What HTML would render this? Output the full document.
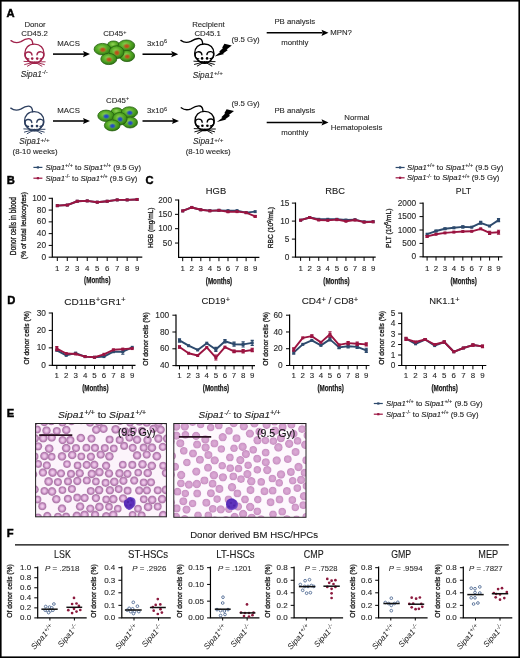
<!DOCTYPE html>
<html><head><meta charset="utf-8"><title>Figure</title>
<style>
html,body{margin:0;padding:0;background:#fff;}
body{width:520px;height:658px;overflow:hidden;}
svg{display:block;font-family:"Liberation Sans", sans-serif;filter:blur(0.4px);}
</style></head><body>
<svg width="520" height="658" viewBox="0 0 520 658">
<rect x="0.8" y="0.8" width="518.4" height="656.4" fill="#fff" stroke="#000" stroke-width="1.6"/>
<text x="6.60" y="16.95" font-size="11.2" font-weight="bold" fill="#000" stroke="#000" stroke-width="0.45">A</text>
<text x="6.80" y="183.95" font-size="11.2" font-weight="bold" fill="#000" stroke="#000" stroke-width="0.45">B</text>
<text x="145.60" y="184.15" font-size="11.2" font-weight="bold" fill="#000" stroke="#000" stroke-width="0.45">C</text>
<text x="7.20" y="303.75" font-size="11.2" font-weight="bold" fill="#000" stroke="#000" stroke-width="0.45">D</text>
<text x="6.80" y="417.45" font-size="11.2" font-weight="bold" fill="#000" stroke="#000" stroke-width="0.45">E</text>
<text x="6.80" y="537.45" font-size="11.2" font-weight="bold" fill="#000" stroke="#000" stroke-width="0.45">F</text>
<defs>
<radialGradient id="gcell" cx="0.45" cy="0.4" r="0.6">
<stop offset="0" stop-color="#98d45c"/><stop offset="0.45" stop-color="#5cb02a"/><stop offset="0.85" stop-color="#3a8a18"/><stop offset="1" stop-color="#2c6a0e"/></radialGradient>
<radialGradient id="nucR" cx="0.5" cy="0.5" r="0.5">
<stop offset="0" stop-color="#c0441a"/><stop offset="0.45" stop-color="#b85a1c" stop-opacity="0.9"/><stop offset="1" stop-color="#70a030" stop-opacity="0"/></radialGradient>
<radialGradient id="nucB" cx="0.5" cy="0.5" r="0.5">
<stop offset="0" stop-color="#1e3cd0"/><stop offset="0.45" stop-color="#2850c0" stop-opacity="0.9"/><stop offset="1" stop-color="#50a050" stop-opacity="0"/></radialGradient>
</defs>
<text x="35.00" y="27.15" font-size="7.8" text-anchor="middle" fill="#2b2b2b" stroke="#2b2b2b" stroke-width="0.12" >Donor</text>
<text x="34.50" y="36.25" font-size="7.8" text-anchor="middle" fill="#2b2b2b" stroke="#2b2b2b" stroke-width="0.12" >CD45.2</text>
<g transform="translate(34.40 53.80) scale(1.0)" fill="none" stroke="#a0234b" stroke-width="1.35" stroke-linecap="round" stroke-linejoin="round"><path d="M -23.4 -13.2 Q -19 -9.8 -13.5 -12.2 Q -8 -15.8 -4.5 -15 Q -1.8 -14 -1.6 -9.6"/><path d="M -6.8 6.2 C -10.5 3 -10.5 -3.5 -7 -7 C -3.5 -10.5 3.5 -10.5 7 -7 C 10.5 -3.5 10.5 3 6.8 6.2"/><path d="M -6.8 6.2 Q -3.5 9.8 0.3 9.6 Q 4 9.8 6.8 6.2"/><path d="M -5.6 5.2 C -10.0 5.2 -10.4 -1.4 -6.4 -1.8 C -4.2 -2.0 -2.6 -0.6 -2.4 1.2"/><path d="M 5.8 5.0 C 10.2 5.0 10.6 -1.6 6.6 -2.0 C 4.4 -2.2 2.8 -0.8 2.6 1.0"/><circle cx="-2.2" cy="4.8" r="1.3" fill="#a0234b" stroke="none"/><circle cx="2.8" cy="4.8" r="1.3" fill="#a0234b" stroke="none"/><ellipse cx="0.3" cy="8.7" rx="1.8" ry="1.2" fill="#a0234b" stroke="none"/><path stroke-width="0.95" d="M -1.5 8 L -10.4 7.6 M -1.5 8.6 L -9.8 10.8 M -1 9 L -7 12.4 M 2.1 8 L 10.8 8 M 2.1 8.6 L 10 10.8 M 1.7 9 L 7.5 12.4"/></g>
<text x="34.20" y="76.85" font-size="8.3" text-anchor="middle" fill="#2b2b2b" stroke="#2b2b2b" stroke-width="0.12" ><tspan font-style="italic">Sipa1</tspan><tspan font-size="6.23" dy="-2.74">-/-</tspan></text>
<text x="68.60" y="45.95" font-size="7.8" text-anchor="middle" fill="#2b2b2b" stroke="#2b2b2b" stroke-width="0.12" >MACS</text>
<line x1="53.00" y1="54.10" x2="84.00" y2="54.10" stroke="#000" stroke-width="1.55" />
<polygon points="90.00,54.10 83.00,51.00 84.20,54.10 83.00,57.20" fill="#000"/>
<text x="103.20" y="36.15" font-size="7.8" fill="#2b2b2b" stroke="#2b2b2b" stroke-width="0.12" ><tspan>CD45</tspan><tspan font-size="5.46" dy="-2.57">+</tspan></text>
<g transform="translate(93.50 39.40) scale(1.0)"><ellipse cx="20.00" cy="5.60" rx="6.0" ry="4.0" fill="url(#gcell)" stroke="#23600e" stroke-width="0.8"/><ellipse cx="32.90" cy="6.20" rx="8.3" ry="5.6" fill="url(#gcell)" stroke="#23600e" stroke-width="0.8"/><ellipse cx="33.20" cy="6.80" rx="4.32" ry="3.25" fill="url(#nucR)"/><ellipse cx="9.00" cy="9.80" rx="8.4" ry="5.8" fill="url(#gcell)" stroke="#23600e" stroke-width="0.8"/><ellipse cx="9.30" cy="10.40" rx="4.37" ry="3.36" fill="url(#nucR)"/><ellipse cx="33.50" cy="16.60" rx="7.6" ry="5.6" fill="url(#gcell)" stroke="#23600e" stroke-width="0.8"/><ellipse cx="33.80" cy="17.20" rx="3.95" ry="3.25" fill="url(#nucR)"/><ellipse cx="23.10" cy="12.80" rx="7.4" ry="6.4" fill="url(#gcell)" stroke="#23600e" stroke-width="0.8"/><ellipse cx="23.40" cy="13.40" rx="3.85" ry="3.71" fill="url(#nucR)"/><ellipse cx="15.30" cy="19.60" rx="8.0" ry="5.6" fill="url(#gcell)" stroke="#23600e" stroke-width="0.8"/><ellipse cx="15.60" cy="20.20" rx="4.16" ry="3.25" fill="url(#nucR)"/></g>
<text x="147.00" y="45.95" font-size="7.8" fill="#2b2b2b" stroke="#2b2b2b" stroke-width="0.12" ><tspan>3x10</tspan><tspan font-size="5.46" dy="-2.57">6</tspan></text>
<line x1="142.50" y1="54.20" x2="172.20" y2="54.20" stroke="#000" stroke-width="1.55" />
<polygon points="178.20,54.20 171.20,51.10 172.40,54.20 171.20,57.30" fill="#000"/>
<text x="208.40" y="26.75" font-size="7.8" text-anchor="middle" fill="#2b2b2b" stroke="#2b2b2b" stroke-width="0.12" >Recipient</text>
<text x="207.60" y="36.25" font-size="7.8" text-anchor="middle" fill="#2b2b2b" stroke="#2b2b2b" stroke-width="0.12" >CD45.1</text>
<g transform="translate(204.30 53.60) scale(1.0)" fill="none" stroke="#000" stroke-width="1.35" stroke-linecap="round" stroke-linejoin="round"><path d="M -23.4 -13.2 Q -19 -9.8 -13.5 -12.2 Q -8 -15.8 -4.5 -15 Q -1.8 -14 -1.6 -9.6"/><path d="M -6.8 6.2 C -10.5 3 -10.5 -3.5 -7 -7 C -3.5 -10.5 3.5 -10.5 7 -7 C 10.5 -3.5 10.5 3 6.8 6.2"/><path d="M -6.8 6.2 Q -3.5 9.8 0.3 9.6 Q 4 9.8 6.8 6.2"/><path d="M -5.6 5.2 C -10.0 5.2 -10.4 -1.4 -6.4 -1.8 C -4.2 -2.0 -2.6 -0.6 -2.4 1.2"/><path d="M 5.8 5.0 C 10.2 5.0 10.6 -1.6 6.6 -2.0 C 4.4 -2.2 2.8 -0.8 2.6 1.0"/><circle cx="-2.2" cy="4.8" r="1.3" fill="#000" stroke="none"/><circle cx="2.8" cy="4.8" r="1.3" fill="#000" stroke="none"/><ellipse cx="0.3" cy="8.7" rx="1.8" ry="1.2" fill="#000" stroke="none"/><path stroke-width="0.95" d="M -1.5 8 L -10.4 7.6 M -1.5 8.6 L -9.8 10.8 M -1 9 L -7 12.4 M 2.1 8 L 10.8 8 M 2.1 8.6 L 10 10.8 M 1.7 9 L 7.5 12.4"/></g>
<polygon points="214.60,56.40 220.20,52.10 219.10,51.70 223.00,48.00 222.10,47.70 224.40,43.70 231.80,45.50 226.60,49.40 227.90,50.10 223.00,53.60 224.20,54.00" fill="#000"/>
<text x="231.50" y="42.45" font-size="7.8" fill="#2b2b2b" stroke="#2b2b2b" stroke-width="0.12" >(9.5 Gy)</text>
<text x="207.80" y="77.55" font-size="8.3" text-anchor="middle" fill="#2b2b2b" stroke="#2b2b2b" stroke-width="0.12" ><tspan font-style="italic">Sipa1</tspan><tspan font-size="6.23" dy="-2.74">+/+</tspan></text>
<text x="274.40" y="23.55" font-size="7.8" fill="#2b2b2b" stroke="#2b2b2b" stroke-width="0.12" >PB analysis</text>
<line x1="266.70" y1="32.80" x2="322.50" y2="32.80" stroke="#000" stroke-width="1.55" />
<polygon points="328.50,32.80 321.50,29.70 322.70,32.80 321.50,35.90" fill="#000"/>
<text x="330.20" y="35.35" font-size="7.8" fill="#2b2b2b" stroke="#2b2b2b" stroke-width="0.12" >MPN?</text>
<text x="281.20" y="45.35" font-size="7.8" fill="#2b2b2b" stroke="#2b2b2b" stroke-width="0.12" >monthly</text>
<g transform="translate(34.20 121.30) scale(1.0)" fill="none" stroke="#2c3e5e" stroke-width="1.35" stroke-linecap="round" stroke-linejoin="round"><path d="M -23.4 -13.2 Q -19 -9.8 -13.5 -12.2 Q -8 -15.8 -4.5 -15 Q -1.8 -14 -1.6 -9.6"/><path d="M -6.8 6.2 C -10.5 3 -10.5 -3.5 -7 -7 C -3.5 -10.5 3.5 -10.5 7 -7 C 10.5 -3.5 10.5 3 6.8 6.2"/><path d="M -6.8 6.2 Q -3.5 9.8 0.3 9.6 Q 4 9.8 6.8 6.2"/><path d="M -5.6 5.2 C -10.0 5.2 -10.4 -1.4 -6.4 -1.8 C -4.2 -2.0 -2.6 -0.6 -2.4 1.2"/><path d="M 5.8 5.0 C 10.2 5.0 10.6 -1.6 6.6 -2.0 C 4.4 -2.2 2.8 -0.8 2.6 1.0"/><circle cx="-2.2" cy="4.8" r="1.3" fill="#2c3e5e" stroke="none"/><circle cx="2.8" cy="4.8" r="1.3" fill="#2c3e5e" stroke="none"/><ellipse cx="0.3" cy="8.7" rx="1.8" ry="1.2" fill="#2c3e5e" stroke="none"/><path stroke-width="0.95" d="M -1.5 8 L -10.4 7.6 M -1.5 8.6 L -9.8 10.8 M -1 9 L -7 12.4 M 2.1 8 L 10.8 8 M 2.1 8.6 L 10 10.8 M 1.7 9 L 7.5 12.4"/></g>
<text x="34.40" y="144.35" font-size="8.3" text-anchor="middle" fill="#2b2b2b" stroke="#2b2b2b" stroke-width="0.12" ><tspan font-style="italic">Sipa1</tspan><tspan font-size="6.23" dy="-2.74">+/+</tspan></text>
<text x="35.10" y="153.75" font-size="7.8" text-anchor="middle" fill="#2b2b2b" stroke="#2b2b2b" stroke-width="0.12" >(8-10 weeks)</text>
<text x="68.60" y="113.35" font-size="7.8" text-anchor="middle" fill="#2b2b2b" stroke="#2b2b2b" stroke-width="0.12" >MACS</text>
<line x1="53.00" y1="121.00" x2="84.00" y2="121.00" stroke="#000" stroke-width="1.55" />
<polygon points="90.00,121.00 83.00,117.90 84.20,121.00 83.00,124.10" fill="#000"/>
<text x="106.00" y="102.75" font-size="7.8" fill="#2b2b2b" stroke="#2b2b2b" stroke-width="0.12" ><tspan>CD45</tspan><tspan font-size="5.46" dy="-2.57">+</tspan></text>
<g transform="translate(97.20 106.20) scale(0.98)"><ellipse cx="20.00" cy="5.60" rx="6.0" ry="4.0" fill="url(#gcell)" stroke="#23600e" stroke-width="0.8"/><ellipse cx="32.90" cy="6.20" rx="8.3" ry="5.6" fill="url(#gcell)" stroke="#23600e" stroke-width="0.8"/><ellipse cx="33.20" cy="6.80" rx="4.32" ry="3.25" fill="url(#nucB)"/><ellipse cx="9.00" cy="9.80" rx="8.4" ry="5.8" fill="url(#gcell)" stroke="#23600e" stroke-width="0.8"/><ellipse cx="9.30" cy="10.40" rx="4.37" ry="3.36" fill="url(#nucB)"/><ellipse cx="33.50" cy="16.60" rx="7.6" ry="5.6" fill="url(#gcell)" stroke="#23600e" stroke-width="0.8"/><ellipse cx="33.80" cy="17.20" rx="3.95" ry="3.25" fill="url(#nucB)"/><ellipse cx="23.10" cy="12.80" rx="7.4" ry="6.4" fill="url(#gcell)" stroke="#23600e" stroke-width="0.8"/><ellipse cx="23.40" cy="13.40" rx="3.85" ry="3.71" fill="url(#nucB)"/><ellipse cx="15.30" cy="19.60" rx="8.0" ry="5.6" fill="url(#gcell)" stroke="#23600e" stroke-width="0.8"/><ellipse cx="15.60" cy="20.20" rx="4.16" ry="3.25" fill="url(#nucB)"/></g>
<text x="147.00" y="113.35" font-size="7.8" fill="#2b2b2b" stroke="#2b2b2b" stroke-width="0.12" ><tspan>3x10</tspan><tspan font-size="5.46" dy="-2.57">6</tspan></text>
<line x1="142.50" y1="121.00" x2="173.00" y2="121.00" stroke="#000" stroke-width="1.55" />
<polygon points="179.00,121.00 172.00,117.90 173.20,121.00 172.00,124.10" fill="#000"/>
<g transform="translate(204.60 121.00) scale(1.0)" fill="none" stroke="#000" stroke-width="1.35" stroke-linecap="round" stroke-linejoin="round"><path d="M -23.4 -13.2 Q -19 -9.8 -13.5 -12.2 Q -8 -15.8 -4.5 -15 Q -1.8 -14 -1.6 -9.6"/><path d="M -6.8 6.2 C -10.5 3 -10.5 -3.5 -7 -7 C -3.5 -10.5 3.5 -10.5 7 -7 C 10.5 -3.5 10.5 3 6.8 6.2"/><path d="M -6.8 6.2 Q -3.5 9.8 0.3 9.6 Q 4 9.8 6.8 6.2"/><path d="M -5.6 5.2 C -10.0 5.2 -10.4 -1.4 -6.4 -1.8 C -4.2 -2.0 -2.6 -0.6 -2.4 1.2"/><path d="M 5.8 5.0 C 10.2 5.0 10.6 -1.6 6.6 -2.0 C 4.4 -2.2 2.8 -0.8 2.6 1.0"/><circle cx="-2.2" cy="4.8" r="1.3" fill="#000" stroke="none"/><circle cx="2.8" cy="4.8" r="1.3" fill="#000" stroke="none"/><ellipse cx="0.3" cy="8.7" rx="1.8" ry="1.2" fill="#000" stroke="none"/><path stroke-width="0.95" d="M -1.5 8 L -10.4 7.6 M -1.5 8.6 L -9.8 10.8 M -1 9 L -7 12.4 M 2.1 8 L 10.8 8 M 2.1 8.6 L 10 10.8 M 1.7 9 L 7.5 12.4"/></g>
<polygon points="216.80,122.00 222.40,117.70 221.30,117.30 225.20,113.60 224.30,113.30 226.60,109.30 234.00,111.10 228.80,115.00 230.10,115.70 225.20,119.20 226.40,119.60" fill="#000"/>
<text x="231.50" y="106.35" font-size="7.8" fill="#2b2b2b" stroke="#2b2b2b" stroke-width="0.12" >(9.5 Gy)</text>
<text x="208.20" y="144.35" font-size="8.3" text-anchor="middle" fill="#2b2b2b" stroke="#2b2b2b" stroke-width="0.12" ><tspan font-style="italic">Sipa1</tspan><tspan font-size="6.23" dy="-2.74">+/+</tspan></text>
<text x="208.20" y="153.75" font-size="7.8" text-anchor="middle" fill="#2b2b2b" stroke="#2b2b2b" stroke-width="0.12" >(8-10 weeks)</text>
<text x="274.40" y="113.15" font-size="7.8" fill="#2b2b2b" stroke="#2b2b2b" stroke-width="0.12" >PB analysis</text>
<line x1="266.70" y1="122.40" x2="322.50" y2="122.40" stroke="#000" stroke-width="1.55" />
<polygon points="328.50,122.40 321.50,119.30 322.70,122.40 321.50,125.50" fill="#000"/>
<text x="281.20" y="135.15" font-size="7.8" fill="#2b2b2b" stroke="#2b2b2b" stroke-width="0.12" >monthly</text>
<text x="356.90" y="119.75" font-size="7.8" text-anchor="middle" fill="#2b2b2b" stroke="#2b2b2b" stroke-width="0.12" >Normal</text>
<text x="356.60" y="130.05" font-size="7.8" text-anchor="middle" fill="#2b2b2b" stroke="#2b2b2b" stroke-width="0.12" >Hematopoiesis</text>
<line x1="33.40" y1="167.40" x2="42.40" y2="167.40" stroke="#2d4a6d" stroke-width="1.2" />
<rect x="36.80" y="166.30" width="2.2" height="2.2" fill="#2d4a6d"/>
<text x="45.40" y="169.72" font-size="7.7" fill="#222" textLength="95.60" lengthAdjust="spacingAndGlyphs" stroke="#222" stroke-width="0.12" ><tspan font-style="italic">Sipa1</tspan><tspan font-size="5.39" dy="-2.54">+/+</tspan><tspan dy="2.54"> to </tspan><tspan font-style="italic">Sipa1</tspan><tspan font-size="5.39" dy="-2.54">+/+</tspan><tspan dy="2.54"> (9.5 Gy)</tspan></text>
<line x1="33.40" y1="178.20" x2="42.40" y2="178.20" stroke="#9b1441" stroke-width="1.2" />
<rect x="36.80" y="177.10" width="2.2" height="2.2" fill="#9b1441"/>
<text x="45.40" y="180.52" font-size="7.7" fill="#222" textLength="92.00" lengthAdjust="spacingAndGlyphs" stroke="#222" stroke-width="0.12" ><tspan font-style="italic">Sipa1</tspan><tspan font-size="5.39" dy="-2.54">-/-</tspan><tspan dy="2.54"> to </tspan><tspan font-style="italic">Sipa1</tspan><tspan font-size="5.39" dy="-2.54">+/+</tspan><tspan dy="2.54"> (9.5 Gy)</tspan></text>
<line x1="395.60" y1="167.50" x2="404.60" y2="167.50" stroke="#2d4a6d" stroke-width="1.2" />
<rect x="399.00" y="166.40" width="2.2" height="2.2" fill="#2d4a6d"/>
<text x="407.00" y="169.82" font-size="7.7" fill="#222" textLength="96.30" lengthAdjust="spacingAndGlyphs" stroke="#222" stroke-width="0.12" ><tspan font-style="italic">Sipa1</tspan><tspan font-size="5.39" dy="-2.54">+/+</tspan><tspan dy="2.54"> to </tspan><tspan font-style="italic">Sipa1</tspan><tspan font-size="5.39" dy="-2.54">+/+</tspan><tspan dy="2.54"> (9.5 Gy)</tspan></text>
<line x1="395.60" y1="177.80" x2="404.60" y2="177.80" stroke="#9b1441" stroke-width="1.2" />
<rect x="399.00" y="176.70" width="2.2" height="2.2" fill="#9b1441"/>
<text x="407.00" y="180.12" font-size="7.7" fill="#222" textLength="92.30" lengthAdjust="spacingAndGlyphs" stroke="#222" stroke-width="0.12" ><tspan font-style="italic">Sipa1</tspan><tspan font-size="5.39" dy="-2.54">-/-</tspan><tspan dy="2.54"> to </tspan><tspan font-style="italic">Sipa1</tspan><tspan font-size="5.39" dy="-2.54">+/+</tspan><tspan dy="2.54"> (9.5 Gy)</tspan></text>
<line x1="373.80" y1="403.50" x2="382.80" y2="403.50" stroke="#2d4a6d" stroke-width="1.2" />
<rect x="377.20" y="402.40" width="2.2" height="2.2" fill="#2d4a6d"/>
<text x="386.00" y="405.82" font-size="7.7" fill="#222" textLength="96.50" lengthAdjust="spacingAndGlyphs" stroke="#222" stroke-width="0.12" ><tspan font-style="italic">Sipa1</tspan><tspan font-size="5.39" dy="-2.54">+/+</tspan><tspan dy="2.54"> to </tspan><tspan font-style="italic">Sipa1</tspan><tspan font-size="5.39" dy="-2.54">+/+</tspan><tspan dy="2.54"> (9.5 Gy)</tspan></text>
<line x1="373.80" y1="414.20" x2="382.80" y2="414.20" stroke="#9b1441" stroke-width="1.2" />
<rect x="377.20" y="413.10" width="2.2" height="2.2" fill="#9b1441"/>
<text x="386.00" y="416.52" font-size="7.7" fill="#222" textLength="92.50" lengthAdjust="spacingAndGlyphs" stroke="#222" stroke-width="0.12" ><tspan font-style="italic">Sipa1</tspan><tspan font-size="5.39" dy="-2.54">-/-</tspan><tspan dy="2.54"> to </tspan><tspan font-style="italic">Sipa1</tspan><tspan font-size="5.39" dy="-2.54">+/+</tspan><tspan dy="2.54"> (9.5 Gy)</tspan></text>
<polyline points="57.30,205.66 67.28,205.07 77.26,201.25 87.24,200.89 97.22,202.19 107.20,201.25 117.18,199.89 127.16,199.89 137.14,199.48" fill="none" stroke="#2d4a6d" stroke-width="1.9" stroke-linejoin="round"/>
<rect x="55.80" y="204.16" width="3" height="3" fill="#2d4a6d"/>
<rect x="65.78" y="203.57" width="3" height="3" fill="#2d4a6d"/>
<rect x="75.76" y="199.75" width="3" height="3" fill="#2d4a6d"/>
<rect x="85.74" y="199.39" width="3" height="3" fill="#2d4a6d"/>
<rect x="95.72" y="200.69" width="3" height="3" fill="#2d4a6d"/>
<rect x="105.70" y="199.75" width="3" height="3" fill="#2d4a6d"/>
<rect x="115.68" y="198.39" width="3" height="3" fill="#2d4a6d"/>
<rect x="125.66" y="198.39" width="3" height="3" fill="#2d4a6d"/>
<rect x="135.64" y="197.98" width="3" height="3" fill="#2d4a6d"/>
<polyline points="57.30,205.66 67.28,205.07 77.26,201.25 87.24,200.89 97.22,202.19 107.20,201.25 117.18,199.89 127.16,199.89 137.14,199.48" fill="none" stroke="#9b1441" stroke-width="1.9" stroke-linejoin="round"/>
<rect x="55.80" y="204.16" width="3" height="3" fill="#9b1441"/>
<rect x="65.78" y="203.57" width="3" height="3" fill="#9b1441"/>
<rect x="75.76" y="199.75" width="3" height="3" fill="#9b1441"/>
<rect x="85.74" y="199.39" width="3" height="3" fill="#9b1441"/>
<rect x="95.72" y="200.69" width="3" height="3" fill="#9b1441"/>
<rect x="105.70" y="199.75" width="3" height="3" fill="#9b1441"/>
<rect x="115.68" y="198.39" width="3" height="3" fill="#9b1441"/>
<rect x="125.66" y="198.39" width="3" height="3" fill="#9b1441"/>
<rect x="135.64" y="197.98" width="3" height="3" fill="#9b1441"/>
<path d="M52.30 197.70V257.20H142.30" fill="none" stroke="#000" stroke-width="1.2"/>
<line x1="48.70" y1="257.20" x2="52.30" y2="257.20" stroke="#000" stroke-width="1.0" />
<text x="46.00" y="259.74" font-size="8.3" text-anchor="end" fill="#2a2a2a" stroke="#2a2a2a" stroke-width="0.12" >0</text>
<line x1="48.70" y1="245.42" x2="52.30" y2="245.42" stroke="#000" stroke-width="1.0" />
<text x="46.00" y="247.96" font-size="8.3" text-anchor="end" fill="#2a2a2a" stroke="#2a2a2a" stroke-width="0.12" >20</text>
<line x1="48.70" y1="233.64" x2="52.30" y2="233.64" stroke="#000" stroke-width="1.0" />
<text x="46.00" y="236.18" font-size="8.3" text-anchor="end" fill="#2a2a2a" stroke="#2a2a2a" stroke-width="0.12" >40</text>
<line x1="48.70" y1="221.86" x2="52.30" y2="221.86" stroke="#000" stroke-width="1.0" />
<text x="46.00" y="224.40" font-size="8.3" text-anchor="end" fill="#2a2a2a" stroke="#2a2a2a" stroke-width="0.12" >60</text>
<line x1="48.70" y1="210.08" x2="52.30" y2="210.08" stroke="#000" stroke-width="1.0" />
<text x="46.00" y="212.62" font-size="8.3" text-anchor="end" fill="#2a2a2a" stroke="#2a2a2a" stroke-width="0.12" >80</text>
<line x1="48.70" y1="198.30" x2="52.30" y2="198.30" stroke="#000" stroke-width="1.0" />
<text x="46.00" y="200.84" font-size="8.3" text-anchor="end" fill="#2a2a2a" stroke="#2a2a2a" stroke-width="0.12" >100</text>
<line x1="57.30" y1="257.20" x2="57.30" y2="261.00" stroke="#000" stroke-width="1.0" />
<text x="57.30" y="270.55" font-size="7.9" text-anchor="middle" fill="#2a2a2a" stroke="#2a2a2a" stroke-width="0.12" >1</text>
<line x1="67.28" y1="257.20" x2="67.28" y2="261.00" stroke="#000" stroke-width="1.0" />
<text x="67.28" y="270.55" font-size="7.9" text-anchor="middle" fill="#2a2a2a" stroke="#2a2a2a" stroke-width="0.12" >2</text>
<line x1="77.26" y1="257.20" x2="77.26" y2="261.00" stroke="#000" stroke-width="1.0" />
<text x="77.26" y="270.55" font-size="7.9" text-anchor="middle" fill="#2a2a2a" stroke="#2a2a2a" stroke-width="0.12" >3</text>
<line x1="87.24" y1="257.20" x2="87.24" y2="261.00" stroke="#000" stroke-width="1.0" />
<text x="87.24" y="270.55" font-size="7.9" text-anchor="middle" fill="#2a2a2a" stroke="#2a2a2a" stroke-width="0.12" >4</text>
<line x1="97.22" y1="257.20" x2="97.22" y2="261.00" stroke="#000" stroke-width="1.0" />
<text x="97.22" y="270.55" font-size="7.9" text-anchor="middle" fill="#2a2a2a" stroke="#2a2a2a" stroke-width="0.12" >5</text>
<line x1="107.20" y1="257.20" x2="107.20" y2="261.00" stroke="#000" stroke-width="1.0" />
<text x="107.20" y="270.55" font-size="7.9" text-anchor="middle" fill="#2a2a2a" stroke="#2a2a2a" stroke-width="0.12" >6</text>
<line x1="117.18" y1="257.20" x2="117.18" y2="261.00" stroke="#000" stroke-width="1.0" />
<text x="117.18" y="270.55" font-size="7.9" text-anchor="middle" fill="#2a2a2a" stroke="#2a2a2a" stroke-width="0.12" >7</text>
<line x1="127.16" y1="257.20" x2="127.16" y2="261.00" stroke="#000" stroke-width="1.0" />
<text x="127.16" y="270.55" font-size="7.9" text-anchor="middle" fill="#2a2a2a" stroke="#2a2a2a" stroke-width="0.12" >8</text>
<line x1="137.14" y1="257.20" x2="137.14" y2="261.00" stroke="#000" stroke-width="1.0" />
<text x="137.14" y="270.55" font-size="7.9" text-anchor="middle" fill="#2a2a2a" stroke="#2a2a2a" stroke-width="0.12" >9</text>
<text x="97.30" y="283.15" font-size="8.8" text-anchor="middle" fill="#1a1a1a" textLength="26.40" lengthAdjust="spacingAndGlyphs" font-weight="bold" stroke="#1a1a1a" stroke-width="0.25">(Months)</text>
<text x="15.60" y="226.10" font-size="8.6" text-anchor="middle" fill="#1a1a1a" textLength="58.10" lengthAdjust="spacingAndGlyphs" transform="rotate(-90 15.60 226.10)" stroke="#1a1a1a" stroke-width="0.32">Donor cells in blood</text>
<text x="26.20" y="225.60" font-size="8.0" text-anchor="middle" fill="#1a1a1a" textLength="67.20" lengthAdjust="spacingAndGlyphs" transform="rotate(-90 26.20 225.60)" stroke="#1a1a1a" stroke-width="0.32">(% of total leukocytes)</text>
<polyline points="182.70,210.91 191.76,207.46 200.82,209.76 209.88,210.62 218.94,210.33 228.00,210.62 237.06,210.62 246.12,212.63 255.18,211.62" fill="none" stroke="#2d4a6d" stroke-width="1.9" stroke-linejoin="round"/>
<rect x="181.20" y="209.41" width="3" height="3" fill="#2d4a6d"/>
<rect x="190.26" y="205.96" width="3" height="3" fill="#2d4a6d"/>
<rect x="199.32" y="208.26" width="3" height="3" fill="#2d4a6d"/>
<rect x="208.38" y="209.12" width="3" height="3" fill="#2d4a6d"/>
<rect x="217.44" y="208.83" width="3" height="3" fill="#2d4a6d"/>
<rect x="226.50" y="209.12" width="3" height="3" fill="#2d4a6d"/>
<rect x="235.56" y="209.12" width="3" height="3" fill="#2d4a6d"/>
<rect x="244.62" y="211.13" width="3" height="3" fill="#2d4a6d"/>
<rect x="253.68" y="210.12" width="3" height="3" fill="#2d4a6d"/>
<polyline points="182.70,210.91 191.76,207.46 200.82,209.76 209.88,210.91 218.94,210.33 228.00,211.77 237.06,211.62 246.12,212.63 255.18,216.36" fill="none" stroke="#9b1441" stroke-width="1.9" stroke-linejoin="round"/>
<rect x="181.20" y="209.41" width="3" height="3" fill="#9b1441"/>
<rect x="190.26" y="205.96" width="3" height="3" fill="#9b1441"/>
<rect x="199.32" y="208.26" width="3" height="3" fill="#9b1441"/>
<rect x="208.38" y="209.41" width="3" height="3" fill="#9b1441"/>
<rect x="217.44" y="208.83" width="3" height="3" fill="#9b1441"/>
<path d="M228.00 211.34V212.20M226.40 211.34h3.2M226.40 212.20h3.2" stroke="#9b1441" stroke-width="1.1" fill="none"/>
<rect x="226.50" y="210.27" width="3" height="3" fill="#9b1441"/>
<rect x="235.56" y="210.12" width="3" height="3" fill="#9b1441"/>
<rect x="244.62" y="211.13" width="3" height="3" fill="#9b1441"/>
<path d="M255.18 215.64V217.08M253.58 215.64h3.2M253.58 217.08h3.2" stroke="#9b1441" stroke-width="1.1" fill="none"/>
<rect x="253.68" y="214.86" width="3" height="3" fill="#9b1441"/>
<path d="M178.60 199.40V257.40H259.40" fill="none" stroke="#000" stroke-width="1.2"/>
<line x1="175.00" y1="243.05" x2="178.60" y2="243.05" stroke="#000" stroke-width="1.0" />
<text x="172.00" y="245.59" font-size="8.3" text-anchor="end" fill="#2a2a2a" stroke="#2a2a2a" stroke-width="0.12" >50</text>
<line x1="175.00" y1="228.70" x2="178.60" y2="228.70" stroke="#000" stroke-width="1.0" />
<text x="172.00" y="231.24" font-size="8.3" text-anchor="end" fill="#2a2a2a" stroke="#2a2a2a" stroke-width="0.12" >100</text>
<line x1="175.00" y1="214.35" x2="178.60" y2="214.35" stroke="#000" stroke-width="1.0" />
<text x="172.00" y="216.89" font-size="8.3" text-anchor="end" fill="#2a2a2a" stroke="#2a2a2a" stroke-width="0.12" >150</text>
<line x1="175.00" y1="200.00" x2="178.60" y2="200.00" stroke="#000" stroke-width="1.0" />
<text x="172.00" y="202.54" font-size="8.3" text-anchor="end" fill="#2a2a2a" stroke="#2a2a2a" stroke-width="0.12" >200</text>
<line x1="182.70" y1="257.40" x2="182.70" y2="261.20" stroke="#000" stroke-width="1.0" />
<text x="182.70" y="270.75" font-size="7.9" text-anchor="middle" fill="#2a2a2a" stroke="#2a2a2a" stroke-width="0.12" >1</text>
<line x1="191.76" y1="257.40" x2="191.76" y2="261.20" stroke="#000" stroke-width="1.0" />
<text x="191.76" y="270.75" font-size="7.9" text-anchor="middle" fill="#2a2a2a" stroke="#2a2a2a" stroke-width="0.12" >2</text>
<line x1="200.82" y1="257.40" x2="200.82" y2="261.20" stroke="#000" stroke-width="1.0" />
<text x="200.82" y="270.75" font-size="7.9" text-anchor="middle" fill="#2a2a2a" stroke="#2a2a2a" stroke-width="0.12" >3</text>
<line x1="209.88" y1="257.40" x2="209.88" y2="261.20" stroke="#000" stroke-width="1.0" />
<text x="209.88" y="270.75" font-size="7.9" text-anchor="middle" fill="#2a2a2a" stroke="#2a2a2a" stroke-width="0.12" >4</text>
<line x1="218.94" y1="257.40" x2="218.94" y2="261.20" stroke="#000" stroke-width="1.0" />
<text x="218.94" y="270.75" font-size="7.9" text-anchor="middle" fill="#2a2a2a" stroke="#2a2a2a" stroke-width="0.12" >5</text>
<line x1="228.00" y1="257.40" x2="228.00" y2="261.20" stroke="#000" stroke-width="1.0" />
<text x="228.00" y="270.75" font-size="7.9" text-anchor="middle" fill="#2a2a2a" stroke="#2a2a2a" stroke-width="0.12" >6</text>
<line x1="237.06" y1="257.40" x2="237.06" y2="261.20" stroke="#000" stroke-width="1.0" />
<text x="237.06" y="270.75" font-size="7.9" text-anchor="middle" fill="#2a2a2a" stroke="#2a2a2a" stroke-width="0.12" >7</text>
<line x1="246.12" y1="257.40" x2="246.12" y2="261.20" stroke="#000" stroke-width="1.0" />
<text x="246.12" y="270.75" font-size="7.9" text-anchor="middle" fill="#2a2a2a" stroke="#2a2a2a" stroke-width="0.12" >8</text>
<line x1="255.18" y1="257.40" x2="255.18" y2="261.20" stroke="#000" stroke-width="1.0" />
<text x="255.18" y="270.75" font-size="7.9" text-anchor="middle" fill="#2a2a2a" stroke="#2a2a2a" stroke-width="0.12" >9</text>
<text x="219.00" y="283.75" font-size="8.8" text-anchor="middle" fill="#1a1a1a" textLength="26.40" lengthAdjust="spacingAndGlyphs" font-weight="bold" stroke="#1a1a1a" stroke-width="0.25">(Months)</text>
<text x="216.00" y="194.15" font-size="9.9" text-anchor="middle" fill="#1a1a1a" textLength="20.30" lengthAdjust="spacingAndGlyphs" stroke="#1a1a1a" stroke-width="0.12" >HGB</text>
<text x="153.00" y="227.80" font-size="7.6" text-anchor="middle" fill="#1a1a1a" textLength="40.60" lengthAdjust="spacingAndGlyphs" transform="rotate(-90 153.00 227.80)" stroke="#1a1a1a" stroke-width="0.32">HGB (mg/mL)</text>
<polyline points="300.60,220.20 309.67,217.50 318.74,219.30 327.81,219.30 336.88,219.30 345.95,220.02 355.02,219.66 364.09,221.82 373.16,221.64" fill="none" stroke="#2d4a6d" stroke-width="1.9" stroke-linejoin="round"/>
<rect x="299.10" y="218.70" width="3" height="3" fill="#2d4a6d"/>
<rect x="308.17" y="216.00" width="3" height="3" fill="#2d4a6d"/>
<rect x="317.24" y="217.80" width="3" height="3" fill="#2d4a6d"/>
<rect x="326.31" y="217.80" width="3" height="3" fill="#2d4a6d"/>
<rect x="335.38" y="217.80" width="3" height="3" fill="#2d4a6d"/>
<rect x="344.45" y="218.52" width="3" height="3" fill="#2d4a6d"/>
<rect x="353.52" y="218.16" width="3" height="3" fill="#2d4a6d"/>
<rect x="362.59" y="220.32" width="3" height="3" fill="#2d4a6d"/>
<rect x="371.66" y="220.14" width="3" height="3" fill="#2d4a6d"/>
<polyline points="300.60,220.20 309.67,217.50 318.74,220.02 327.81,220.38 336.88,219.66 345.95,221.24 355.02,220.02 364.09,222.18 373.16,221.82" fill="none" stroke="#9b1441" stroke-width="1.9" stroke-linejoin="round"/>
<rect x="299.10" y="218.70" width="3" height="3" fill="#9b1441"/>
<rect x="308.17" y="216.00" width="3" height="3" fill="#9b1441"/>
<rect x="317.24" y="218.52" width="3" height="3" fill="#9b1441"/>
<rect x="326.31" y="218.88" width="3" height="3" fill="#9b1441"/>
<rect x="335.38" y="218.16" width="3" height="3" fill="#9b1441"/>
<rect x="344.45" y="219.74" width="3" height="3" fill="#9b1441"/>
<rect x="353.52" y="218.52" width="3" height="3" fill="#9b1441"/>
<rect x="362.59" y="220.68" width="3" height="3" fill="#9b1441"/>
<rect x="371.66" y="220.32" width="3" height="3" fill="#9b1441"/>
<path d="M295.50 202.50V257.10H375.70" fill="none" stroke="#000" stroke-width="1.2"/>
<line x1="291.90" y1="257.10" x2="295.50" y2="257.10" stroke="#000" stroke-width="1.0" />
<text x="289.40" y="259.64" font-size="8.3" text-anchor="end" fill="#2a2a2a" stroke="#2a2a2a" stroke-width="0.12" >0</text>
<line x1="291.90" y1="239.10" x2="295.50" y2="239.10" stroke="#000" stroke-width="1.0" />
<text x="289.40" y="241.64" font-size="8.3" text-anchor="end" fill="#2a2a2a" stroke="#2a2a2a" stroke-width="0.12" >5</text>
<line x1="291.90" y1="221.10" x2="295.50" y2="221.10" stroke="#000" stroke-width="1.0" />
<text x="289.40" y="223.64" font-size="8.3" text-anchor="end" fill="#2a2a2a" stroke="#2a2a2a" stroke-width="0.12" >10</text>
<line x1="291.90" y1="203.10" x2="295.50" y2="203.10" stroke="#000" stroke-width="1.0" />
<text x="289.40" y="205.64" font-size="8.3" text-anchor="end" fill="#2a2a2a" stroke="#2a2a2a" stroke-width="0.12" >15</text>
<line x1="300.60" y1="257.10" x2="300.60" y2="260.90" stroke="#000" stroke-width="1.0" />
<text x="300.60" y="270.75" font-size="7.9" text-anchor="middle" fill="#2a2a2a" stroke="#2a2a2a" stroke-width="0.12" >1</text>
<line x1="309.67" y1="257.10" x2="309.67" y2="260.90" stroke="#000" stroke-width="1.0" />
<text x="309.67" y="270.75" font-size="7.9" text-anchor="middle" fill="#2a2a2a" stroke="#2a2a2a" stroke-width="0.12" >2</text>
<line x1="318.74" y1="257.10" x2="318.74" y2="260.90" stroke="#000" stroke-width="1.0" />
<text x="318.74" y="270.75" font-size="7.9" text-anchor="middle" fill="#2a2a2a" stroke="#2a2a2a" stroke-width="0.12" >3</text>
<line x1="327.81" y1="257.10" x2="327.81" y2="260.90" stroke="#000" stroke-width="1.0" />
<text x="327.81" y="270.75" font-size="7.9" text-anchor="middle" fill="#2a2a2a" stroke="#2a2a2a" stroke-width="0.12" >4</text>
<line x1="336.88" y1="257.10" x2="336.88" y2="260.90" stroke="#000" stroke-width="1.0" />
<text x="336.88" y="270.75" font-size="7.9" text-anchor="middle" fill="#2a2a2a" stroke="#2a2a2a" stroke-width="0.12" >5</text>
<line x1="345.95" y1="257.10" x2="345.95" y2="260.90" stroke="#000" stroke-width="1.0" />
<text x="345.95" y="270.75" font-size="7.9" text-anchor="middle" fill="#2a2a2a" stroke="#2a2a2a" stroke-width="0.12" >6</text>
<line x1="355.02" y1="257.10" x2="355.02" y2="260.90" stroke="#000" stroke-width="1.0" />
<text x="355.02" y="270.75" font-size="7.9" text-anchor="middle" fill="#2a2a2a" stroke="#2a2a2a" stroke-width="0.12" >7</text>
<line x1="364.09" y1="257.10" x2="364.09" y2="260.90" stroke="#000" stroke-width="1.0" />
<text x="364.09" y="270.75" font-size="7.9" text-anchor="middle" fill="#2a2a2a" stroke="#2a2a2a" stroke-width="0.12" >8</text>
<line x1="373.16" y1="257.10" x2="373.16" y2="260.90" stroke="#000" stroke-width="1.0" />
<text x="373.16" y="270.75" font-size="7.9" text-anchor="middle" fill="#2a2a2a" stroke="#2a2a2a" stroke-width="0.12" >9</text>
<text x="336.50" y="283.75" font-size="8.8" text-anchor="middle" fill="#1a1a1a" textLength="26.40" lengthAdjust="spacingAndGlyphs" font-weight="bold" stroke="#1a1a1a" stroke-width="0.25">(Months)</text>
<text x="335.20" y="193.95" font-size="9.9" text-anchor="middle" fill="#1a1a1a" textLength="19.70" lengthAdjust="spacingAndGlyphs" stroke="#1a1a1a" stroke-width="0.12" >RBC</text>
<text x="273.50" y="227.60" font-size="7.4" text-anchor="middle" fill="#1a1a1a" textLength="41.10" lengthAdjust="spacingAndGlyphs" transform="rotate(-90 273.50 227.60)" stroke="#1a1a1a" stroke-width="0.32">RBC (10<tspan font-size="5.2" dy="-2.3">9</tspan><tspan dy="2.3">/mL)</tspan></text>
<polyline points="427.10,234.23 436.03,231.02 444.96,228.79 453.89,227.78 462.82,226.92 471.75,227.19 480.68,222.84 489.61,226.06 498.54,220.14" fill="none" stroke="#2d4a6d" stroke-width="1.9" stroke-linejoin="round"/>
<rect x="425.60" y="232.73" width="3" height="3" fill="#2d4a6d"/>
<path d="M436.03 230.35V231.69M434.43 230.35h3.2M434.43 231.69h3.2" stroke="#2d4a6d" stroke-width="1.1" fill="none"/>
<rect x="434.53" y="229.52" width="3" height="3" fill="#2d4a6d"/>
<path d="M444.96 228.12V229.46M443.36 228.12h3.2M443.36 229.46h3.2" stroke="#2d4a6d" stroke-width="1.1" fill="none"/>
<rect x="443.46" y="227.29" width="3" height="3" fill="#2d4a6d"/>
<rect x="452.39" y="226.28" width="3" height="3" fill="#2d4a6d"/>
<path d="M462.82 225.85V227.99M461.22 225.85h3.2M461.22 227.99h3.2" stroke="#2d4a6d" stroke-width="1.1" fill="none"/>
<rect x="461.32" y="225.42" width="3" height="3" fill="#2d4a6d"/>
<rect x="470.25" y="225.69" width="3" height="3" fill="#2d4a6d"/>
<path d="M480.68 221.37V224.32M479.08 221.37h3.2M479.08 224.32h3.2" stroke="#2d4a6d" stroke-width="1.1" fill="none"/>
<rect x="479.18" y="221.34" width="3" height="3" fill="#2d4a6d"/>
<rect x="488.11" y="224.56" width="3" height="3" fill="#2d4a6d"/>
<path d="M498.54 218.66V221.61M496.94 218.66h3.2M496.94 221.61h3.2" stroke="#2d4a6d" stroke-width="1.1" fill="none"/>
<rect x="497.04" y="218.64" width="3" height="3" fill="#2d4a6d"/>
<polyline points="427.10,236.43 436.03,234.23 444.96,232.92 453.89,232.12 462.82,231.50 471.75,231.31 480.68,228.79 489.61,232.92 498.54,232.30" fill="none" stroke="#9b1441" stroke-width="1.9" stroke-linejoin="round"/>
<path d="M427.10 235.63V237.24M425.50 235.63h3.2M425.50 237.24h3.2" stroke="#9b1441" stroke-width="1.1" fill="none"/>
<rect x="425.60" y="234.93" width="3" height="3" fill="#9b1441"/>
<rect x="434.53" y="232.73" width="3" height="3" fill="#9b1441"/>
<rect x="443.46" y="231.42" width="3" height="3" fill="#9b1441"/>
<rect x="452.39" y="230.62" width="3" height="3" fill="#9b1441"/>
<rect x="461.32" y="230.00" width="3" height="3" fill="#9b1441"/>
<rect x="470.25" y="229.81" width="3" height="3" fill="#9b1441"/>
<rect x="479.18" y="227.29" width="3" height="3" fill="#9b1441"/>
<path d="M489.61 231.31V234.53M488.01 231.31h3.2M488.01 234.53h3.2" stroke="#9b1441" stroke-width="1.1" fill="none"/>
<rect x="488.11" y="231.42" width="3" height="3" fill="#9b1441"/>
<path d="M498.54 230.29V234.31M496.94 230.29h3.2M496.94 234.31h3.2" stroke="#9b1441" stroke-width="1.1" fill="none"/>
<rect x="497.04" y="230.80" width="3" height="3" fill="#9b1441"/>
<path d="M423.10 202.60V256.80H502.50" fill="none" stroke="#000" stroke-width="1.2"/>
<line x1="419.50" y1="256.80" x2="423.10" y2="256.80" stroke="#000" stroke-width="1.0" />
<text x="416.20" y="259.34" font-size="8.3" text-anchor="end" fill="#2a2a2a" stroke="#2a2a2a" stroke-width="0.12" >0</text>
<line x1="419.50" y1="243.40" x2="423.10" y2="243.40" stroke="#000" stroke-width="1.0" />
<text x="416.20" y="245.94" font-size="8.3" text-anchor="end" fill="#2a2a2a" stroke="#2a2a2a" stroke-width="0.12" >500</text>
<line x1="419.50" y1="230.00" x2="423.10" y2="230.00" stroke="#000" stroke-width="1.0" />
<text x="416.20" y="232.54" font-size="8.3" text-anchor="end" fill="#2a2a2a" stroke="#2a2a2a" stroke-width="0.12" >1000</text>
<line x1="419.50" y1="216.60" x2="423.10" y2="216.60" stroke="#000" stroke-width="1.0" />
<text x="416.20" y="219.14" font-size="8.3" text-anchor="end" fill="#2a2a2a" stroke="#2a2a2a" stroke-width="0.12" >1500</text>
<line x1="419.50" y1="203.20" x2="423.10" y2="203.20" stroke="#000" stroke-width="1.0" />
<text x="416.20" y="205.74" font-size="8.3" text-anchor="end" fill="#2a2a2a" stroke="#2a2a2a" stroke-width="0.12" >2000</text>
<line x1="427.10" y1="256.80" x2="427.10" y2="260.60" stroke="#000" stroke-width="1.0" />
<text x="427.10" y="270.75" font-size="7.9" text-anchor="middle" fill="#2a2a2a" stroke="#2a2a2a" stroke-width="0.12" >1</text>
<line x1="436.03" y1="256.80" x2="436.03" y2="260.60" stroke="#000" stroke-width="1.0" />
<text x="436.03" y="270.75" font-size="7.9" text-anchor="middle" fill="#2a2a2a" stroke="#2a2a2a" stroke-width="0.12" >2</text>
<line x1="444.96" y1="256.80" x2="444.96" y2="260.60" stroke="#000" stroke-width="1.0" />
<text x="444.96" y="270.75" font-size="7.9" text-anchor="middle" fill="#2a2a2a" stroke="#2a2a2a" stroke-width="0.12" >3</text>
<line x1="453.89" y1="256.80" x2="453.89" y2="260.60" stroke="#000" stroke-width="1.0" />
<text x="453.89" y="270.75" font-size="7.9" text-anchor="middle" fill="#2a2a2a" stroke="#2a2a2a" stroke-width="0.12" >4</text>
<line x1="462.82" y1="256.80" x2="462.82" y2="260.60" stroke="#000" stroke-width="1.0" />
<text x="462.82" y="270.75" font-size="7.9" text-anchor="middle" fill="#2a2a2a" stroke="#2a2a2a" stroke-width="0.12" >5</text>
<line x1="471.75" y1="256.80" x2="471.75" y2="260.60" stroke="#000" stroke-width="1.0" />
<text x="471.75" y="270.75" font-size="7.9" text-anchor="middle" fill="#2a2a2a" stroke="#2a2a2a" stroke-width="0.12" >6</text>
<line x1="480.68" y1="256.80" x2="480.68" y2="260.60" stroke="#000" stroke-width="1.0" />
<text x="480.68" y="270.75" font-size="7.9" text-anchor="middle" fill="#2a2a2a" stroke="#2a2a2a" stroke-width="0.12" >7</text>
<line x1="489.61" y1="256.80" x2="489.61" y2="260.60" stroke="#000" stroke-width="1.0" />
<text x="489.61" y="270.75" font-size="7.9" text-anchor="middle" fill="#2a2a2a" stroke="#2a2a2a" stroke-width="0.12" >8</text>
<line x1="498.54" y1="256.80" x2="498.54" y2="260.60" stroke="#000" stroke-width="1.0" />
<text x="498.54" y="270.75" font-size="7.9" text-anchor="middle" fill="#2a2a2a" stroke="#2a2a2a" stroke-width="0.12" >9</text>
<text x="463.70" y="283.75" font-size="8.8" text-anchor="middle" fill="#1a1a1a" textLength="26.40" lengthAdjust="spacingAndGlyphs" font-weight="bold" stroke="#1a1a1a" stroke-width="0.25">(Months)</text>
<text x="463.50" y="193.75" font-size="9.9" text-anchor="middle" fill="#1a1a1a" textLength="15.30" lengthAdjust="spacingAndGlyphs" stroke="#1a1a1a" stroke-width="0.12" >PLT</text>
<text x="390.80" y="228.30" font-size="7.4" text-anchor="middle" fill="#1a1a1a" textLength="39.60" lengthAdjust="spacingAndGlyphs" transform="rotate(-90 390.80 228.30)" stroke="#1a1a1a" stroke-width="0.32">PLT (10<tspan font-size="5.2" dy="-2.3">6</tspan><tspan dy="2.3">/mL)</tspan></text>
<polyline points="56.80,350.31 66.23,355.36 75.66,353.10 85.09,356.58 94.52,357.28 103.95,356.58 113.38,351.70 122.81,351.70 132.24,347.34" fill="none" stroke="#2d4a6d" stroke-width="1.9" stroke-linejoin="round"/>
<rect x="55.30" y="348.81" width="3" height="3" fill="#2d4a6d"/>
<rect x="64.73" y="353.86" width="3" height="3" fill="#2d4a6d"/>
<rect x="74.16" y="351.60" width="3" height="3" fill="#2d4a6d"/>
<rect x="83.59" y="355.08" width="3" height="3" fill="#2d4a6d"/>
<rect x="93.02" y="355.78" width="3" height="3" fill="#2d4a6d"/>
<rect x="102.45" y="355.08" width="3" height="3" fill="#2d4a6d"/>
<rect x="111.88" y="350.20" width="3" height="3" fill="#2d4a6d"/>
<path d="M122.81 349.09V354.32M121.21 349.09h3.2M121.21 354.32h3.2" stroke="#2d4a6d" stroke-width="1.1" fill="none"/>
<rect x="121.31" y="350.20" width="3" height="3" fill="#2d4a6d"/>
<rect x="130.74" y="345.84" width="3" height="3" fill="#2d4a6d"/>
<polyline points="56.80,348.56 66.23,353.53 75.66,353.97 85.09,356.58 94.52,357.28 103.95,354.32 113.38,349.78 122.81,349.09 132.24,348.56" fill="none" stroke="#9b1441" stroke-width="1.9" stroke-linejoin="round"/>
<path d="M56.80 346.47V350.66M55.20 346.47h3.2M55.20 350.66h3.2" stroke="#9b1441" stroke-width="1.1" fill="none"/>
<rect x="55.30" y="347.06" width="3" height="3" fill="#9b1441"/>
<rect x="64.73" y="352.03" width="3" height="3" fill="#9b1441"/>
<rect x="74.16" y="352.47" width="3" height="3" fill="#9b1441"/>
<rect x="83.59" y="355.08" width="3" height="3" fill="#9b1441"/>
<rect x="93.02" y="355.78" width="3" height="3" fill="#9b1441"/>
<rect x="102.45" y="352.82" width="3" height="3" fill="#9b1441"/>
<rect x="111.88" y="348.28" width="3" height="3" fill="#9b1441"/>
<rect x="121.31" y="347.59" width="3" height="3" fill="#9b1441"/>
<rect x="130.74" y="347.06" width="3" height="3" fill="#9b1441"/>
<path d="M52.35 312.40V365.30H135.50" fill="none" stroke="#000" stroke-width="1.2"/>
<line x1="48.75" y1="365.30" x2="52.35" y2="365.30" stroke="#000" stroke-width="1.0" />
<text x="45.90" y="367.84" font-size="8.3" text-anchor="end" fill="#2a2a2a" stroke="#2a2a2a" stroke-width="0.12" >0</text>
<line x1="48.75" y1="347.87" x2="52.35" y2="347.87" stroke="#000" stroke-width="1.0" />
<text x="45.90" y="350.40" font-size="8.3" text-anchor="end" fill="#2a2a2a" stroke="#2a2a2a" stroke-width="0.12" >10</text>
<line x1="48.75" y1="330.43" x2="52.35" y2="330.43" stroke="#000" stroke-width="1.0" />
<text x="45.90" y="332.97" font-size="8.3" text-anchor="end" fill="#2a2a2a" stroke="#2a2a2a" stroke-width="0.12" >20</text>
<line x1="48.75" y1="313.00" x2="52.35" y2="313.00" stroke="#000" stroke-width="1.0" />
<text x="45.90" y="315.54" font-size="8.3" text-anchor="end" fill="#2a2a2a" stroke="#2a2a2a" stroke-width="0.12" >30</text>
<line x1="56.80" y1="365.30" x2="56.80" y2="369.10" stroke="#000" stroke-width="1.0" />
<text x="56.80" y="378.35" font-size="7.9" text-anchor="middle" fill="#2a2a2a" stroke="#2a2a2a" stroke-width="0.12" >1</text>
<line x1="66.23" y1="365.30" x2="66.23" y2="369.10" stroke="#000" stroke-width="1.0" />
<text x="66.23" y="378.35" font-size="7.9" text-anchor="middle" fill="#2a2a2a" stroke="#2a2a2a" stroke-width="0.12" >2</text>
<line x1="75.66" y1="365.30" x2="75.66" y2="369.10" stroke="#000" stroke-width="1.0" />
<text x="75.66" y="378.35" font-size="7.9" text-anchor="middle" fill="#2a2a2a" stroke="#2a2a2a" stroke-width="0.12" >3</text>
<line x1="85.09" y1="365.30" x2="85.09" y2="369.10" stroke="#000" stroke-width="1.0" />
<text x="85.09" y="378.35" font-size="7.9" text-anchor="middle" fill="#2a2a2a" stroke="#2a2a2a" stroke-width="0.12" >4</text>
<line x1="94.52" y1="365.30" x2="94.52" y2="369.10" stroke="#000" stroke-width="1.0" />
<text x="94.52" y="378.35" font-size="7.9" text-anchor="middle" fill="#2a2a2a" stroke="#2a2a2a" stroke-width="0.12" >5</text>
<line x1="103.95" y1="365.30" x2="103.95" y2="369.10" stroke="#000" stroke-width="1.0" />
<text x="103.95" y="378.35" font-size="7.9" text-anchor="middle" fill="#2a2a2a" stroke="#2a2a2a" stroke-width="0.12" >6</text>
<line x1="113.38" y1="365.30" x2="113.38" y2="369.10" stroke="#000" stroke-width="1.0" />
<text x="113.38" y="378.35" font-size="7.9" text-anchor="middle" fill="#2a2a2a" stroke="#2a2a2a" stroke-width="0.12" >7</text>
<line x1="122.81" y1="365.30" x2="122.81" y2="369.10" stroke="#000" stroke-width="1.0" />
<text x="122.81" y="378.35" font-size="7.9" text-anchor="middle" fill="#2a2a2a" stroke="#2a2a2a" stroke-width="0.12" >8</text>
<line x1="132.24" y1="365.30" x2="132.24" y2="369.10" stroke="#000" stroke-width="1.0" />
<text x="132.24" y="378.35" font-size="7.9" text-anchor="middle" fill="#2a2a2a" stroke="#2a2a2a" stroke-width="0.12" >9</text>
<text x="95.40" y="390.95" font-size="8.8" text-anchor="middle" fill="#1a1a1a" textLength="26.40" lengthAdjust="spacingAndGlyphs" font-weight="bold" stroke="#1a1a1a" stroke-width="0.25">(Months)</text>
<text x="94.90" y="304.55" font-size="9.9" text-anchor="middle" fill="#1a1a1a" textLength="61.40" lengthAdjust="spacingAndGlyphs" stroke="#1a1a1a" stroke-width="0.12" ><tspan>CD11B</tspan><tspan font-size="7.72" dy="-2.18">+</tspan><tspan dy="2.18">GR1</tspan><tspan font-size="7.72" dy="-2.18">+</tspan></text>
<text x="29.00" y="337.80" font-size="7.3" text-anchor="middle" fill="#1a1a1a" textLength="53.40" lengthAdjust="spacingAndGlyphs" transform="rotate(-90 29.00 337.80)" stroke="#1a1a1a" stroke-width="0.32">Of donor cells (%)</text>
<polyline points="179.50,340.40 188.59,345.69 197.68,349.98 206.77,343.17 215.86,349.47 224.95,341.24 234.04,344.18 243.13,344.43 252.22,342.92" fill="none" stroke="#2d4a6d" stroke-width="1.9" stroke-linejoin="round"/>
<path d="M179.50 338.72V342.08M177.90 338.72h3.2M177.90 342.08h3.2" stroke="#2d4a6d" stroke-width="1.1" fill="none"/>
<rect x="178.00" y="338.90" width="3" height="3" fill="#2d4a6d"/>
<rect x="187.09" y="344.19" width="3" height="3" fill="#2d4a6d"/>
<rect x="196.18" y="348.48" width="3" height="3" fill="#2d4a6d"/>
<rect x="205.27" y="341.67" width="3" height="3" fill="#2d4a6d"/>
<path d="M215.86 347.37V351.57M214.26 347.37h3.2M214.26 351.57h3.2" stroke="#2d4a6d" stroke-width="1.1" fill="none"/>
<rect x="214.36" y="347.97" width="3" height="3" fill="#2d4a6d"/>
<path d="M224.95 339.56V342.92M223.35 339.56h3.2M223.35 342.92h3.2" stroke="#2d4a6d" stroke-width="1.1" fill="none"/>
<rect x="223.45" y="339.74" width="3" height="3" fill="#2d4a6d"/>
<path d="M234.04 342.08V346.28M232.44 342.08h3.2M232.44 346.28h3.2" stroke="#2d4a6d" stroke-width="1.1" fill="none"/>
<rect x="232.54" y="342.68" width="3" height="3" fill="#2d4a6d"/>
<path d="M243.13 341.91V346.95M241.53 341.91h3.2M241.53 346.95h3.2" stroke="#2d4a6d" stroke-width="1.1" fill="none"/>
<rect x="241.63" y="342.93" width="3" height="3" fill="#2d4a6d"/>
<path d="M252.22 340.40V345.44M250.62 340.40h3.2M250.62 345.44h3.2" stroke="#2d4a6d" stroke-width="1.1" fill="none"/>
<rect x="250.72" y="341.42" width="3" height="3" fill="#2d4a6d"/>
<polyline points="179.50,346.95 188.59,353.25 197.68,355.52 206.77,347.46 215.86,357.54 224.95,347.12 234.04,351.32 243.13,351.32 252.22,349.98" fill="none" stroke="#9b1441" stroke-width="1.9" stroke-linejoin="round"/>
<path d="M179.50 345.69V348.21M177.90 345.69h3.2M177.90 348.21h3.2" stroke="#9b1441" stroke-width="1.1" fill="none"/>
<rect x="178.00" y="345.45" width="3" height="3" fill="#9b1441"/>
<rect x="187.09" y="351.75" width="3" height="3" fill="#9b1441"/>
<rect x="196.18" y="354.02" width="3" height="3" fill="#9b1441"/>
<rect x="205.27" y="345.96" width="3" height="3" fill="#9b1441"/>
<path d="M215.86 355.02V360.06M214.26 355.02h3.2M214.26 360.06h3.2" stroke="#9b1441" stroke-width="1.1" fill="none"/>
<rect x="214.36" y="356.04" width="3" height="3" fill="#9b1441"/>
<rect x="223.45" y="345.62" width="3" height="3" fill="#9b1441"/>
<path d="M234.04 350.06V352.58M232.44 350.06h3.2M232.44 352.58h3.2" stroke="#9b1441" stroke-width="1.1" fill="none"/>
<rect x="232.54" y="349.82" width="3" height="3" fill="#9b1441"/>
<path d="M243.13 349.64V353.00M241.53 349.64h3.2M241.53 353.00h3.2" stroke="#9b1441" stroke-width="1.1" fill="none"/>
<rect x="241.63" y="349.82" width="3" height="3" fill="#9b1441"/>
<path d="M252.22 348.30V351.66M250.62 348.30h3.2M250.62 351.66h3.2" stroke="#9b1441" stroke-width="1.1" fill="none"/>
<rect x="250.72" y="348.48" width="3" height="3" fill="#9b1441"/>
<path d="M176.00 314.60V365.60H255.00" fill="none" stroke="#000" stroke-width="1.2"/>
<line x1="172.40" y1="365.60" x2="176.00" y2="365.60" stroke="#000" stroke-width="1.0" />
<text x="169.20" y="368.14" font-size="8.3" text-anchor="end" fill="#2a2a2a" stroke="#2a2a2a" stroke-width="0.12" >40</text>
<line x1="172.40" y1="348.80" x2="176.00" y2="348.80" stroke="#000" stroke-width="1.0" />
<text x="169.20" y="351.34" font-size="8.3" text-anchor="end" fill="#2a2a2a" stroke="#2a2a2a" stroke-width="0.12" >60</text>
<line x1="172.40" y1="332.00" x2="176.00" y2="332.00" stroke="#000" stroke-width="1.0" />
<text x="169.20" y="334.54" font-size="8.3" text-anchor="end" fill="#2a2a2a" stroke="#2a2a2a" stroke-width="0.12" >80</text>
<line x1="172.40" y1="315.20" x2="176.00" y2="315.20" stroke="#000" stroke-width="1.0" />
<text x="169.20" y="317.74" font-size="8.3" text-anchor="end" fill="#2a2a2a" stroke="#2a2a2a" stroke-width="0.12" >100</text>
<line x1="179.50" y1="365.60" x2="179.50" y2="369.40" stroke="#000" stroke-width="1.0" />
<text x="179.50" y="378.35" font-size="7.9" text-anchor="middle" fill="#2a2a2a" stroke="#2a2a2a" stroke-width="0.12" >1</text>
<line x1="188.59" y1="365.60" x2="188.59" y2="369.40" stroke="#000" stroke-width="1.0" />
<text x="188.59" y="378.35" font-size="7.9" text-anchor="middle" fill="#2a2a2a" stroke="#2a2a2a" stroke-width="0.12" >2</text>
<line x1="197.68" y1="365.60" x2="197.68" y2="369.40" stroke="#000" stroke-width="1.0" />
<text x="197.68" y="378.35" font-size="7.9" text-anchor="middle" fill="#2a2a2a" stroke="#2a2a2a" stroke-width="0.12" >3</text>
<line x1="206.77" y1="365.60" x2="206.77" y2="369.40" stroke="#000" stroke-width="1.0" />
<text x="206.77" y="378.35" font-size="7.9" text-anchor="middle" fill="#2a2a2a" stroke="#2a2a2a" stroke-width="0.12" >4</text>
<line x1="215.86" y1="365.60" x2="215.86" y2="369.40" stroke="#000" stroke-width="1.0" />
<text x="215.86" y="378.35" font-size="7.9" text-anchor="middle" fill="#2a2a2a" stroke="#2a2a2a" stroke-width="0.12" >5</text>
<line x1="224.95" y1="365.60" x2="224.95" y2="369.40" stroke="#000" stroke-width="1.0" />
<text x="224.95" y="378.35" font-size="7.9" text-anchor="middle" fill="#2a2a2a" stroke="#2a2a2a" stroke-width="0.12" >6</text>
<line x1="234.04" y1="365.60" x2="234.04" y2="369.40" stroke="#000" stroke-width="1.0" />
<text x="234.04" y="378.35" font-size="7.9" text-anchor="middle" fill="#2a2a2a" stroke="#2a2a2a" stroke-width="0.12" >7</text>
<line x1="243.13" y1="365.60" x2="243.13" y2="369.40" stroke="#000" stroke-width="1.0" />
<text x="243.13" y="378.35" font-size="7.9" text-anchor="middle" fill="#2a2a2a" stroke="#2a2a2a" stroke-width="0.12" >8</text>
<line x1="252.22" y1="365.60" x2="252.22" y2="369.40" stroke="#000" stroke-width="1.0" />
<text x="252.22" y="378.35" font-size="7.9" text-anchor="middle" fill="#2a2a2a" stroke="#2a2a2a" stroke-width="0.12" >9</text>
<text x="216.00" y="390.95" font-size="8.8" text-anchor="middle" fill="#1a1a1a" textLength="26.40" lengthAdjust="spacingAndGlyphs" font-weight="bold" stroke="#1a1a1a" stroke-width="0.25">(Months)</text>
<text x="215.70" y="304.45" font-size="9.9" text-anchor="middle" fill="#1a1a1a" textLength="28.50" lengthAdjust="spacingAndGlyphs" stroke="#1a1a1a" stroke-width="0.12" ><tspan>CD19</tspan><tspan font-size="7.72" dy="-2.18">+</tspan></text>
<text x="148.00" y="339.00" font-size="7.3" text-anchor="middle" fill="#1a1a1a" textLength="53.40" lengthAdjust="spacingAndGlyphs" transform="rotate(-90 148.00 339.00)" stroke="#1a1a1a" stroke-width="0.32">Of donor cells (%)</text>
<polyline points="293.70,352.42 302.77,344.37 311.84,340.35 320.91,345.38 329.98,339.34 339.05,347.39 348.12,346.22 357.19,346.89 366.26,350.41" fill="none" stroke="#2d4a6d" stroke-width="1.9" stroke-linejoin="round"/>
<path d="M293.70 350.75V354.10M292.10 350.75h3.2M292.10 354.10h3.2" stroke="#2d4a6d" stroke-width="1.1" fill="none"/>
<rect x="292.20" y="350.92" width="3" height="3" fill="#2d4a6d"/>
<rect x="301.27" y="342.87" width="3" height="3" fill="#2d4a6d"/>
<rect x="310.34" y="338.85" width="3" height="3" fill="#2d4a6d"/>
<rect x="319.41" y="343.88" width="3" height="3" fill="#2d4a6d"/>
<path d="M329.98 337.67V341.02M328.38 337.67h3.2M328.38 341.02h3.2" stroke="#2d4a6d" stroke-width="1.1" fill="none"/>
<rect x="328.48" y="337.84" width="3" height="3" fill="#2d4a6d"/>
<path d="M339.05 346.13V348.65M337.45 346.13h3.2M337.45 348.65h3.2" stroke="#2d4a6d" stroke-width="1.1" fill="none"/>
<rect x="337.55" y="345.89" width="3" height="3" fill="#2d4a6d"/>
<path d="M348.12 344.54V347.89M346.52 344.54h3.2M346.52 347.89h3.2" stroke="#2d4a6d" stroke-width="1.1" fill="none"/>
<rect x="346.62" y="344.72" width="3" height="3" fill="#2d4a6d"/>
<path d="M357.19 345.21V348.57M355.59 345.21h3.2M355.59 348.57h3.2" stroke="#2d4a6d" stroke-width="1.1" fill="none"/>
<rect x="355.69" y="345.39" width="3" height="3" fill="#2d4a6d"/>
<path d="M366.26 348.31V352.51M364.66 348.31h3.2M364.66 352.51h3.2" stroke="#2d4a6d" stroke-width="1.1" fill="none"/>
<rect x="364.76" y="348.91" width="3" height="3" fill="#2d4a6d"/>
<polyline points="293.70,349.40 302.77,337.83 311.84,336.16 320.91,342.36 329.98,334.31 339.05,344.88 348.12,343.12 357.19,343.70 366.26,344.37" fill="none" stroke="#9b1441" stroke-width="1.9" stroke-linejoin="round"/>
<path d="M293.70 347.73V351.08M292.10 347.73h3.2M292.10 351.08h3.2" stroke="#9b1441" stroke-width="1.1" fill="none"/>
<rect x="292.20" y="347.90" width="3" height="3" fill="#9b1441"/>
<rect x="301.27" y="336.33" width="3" height="3" fill="#9b1441"/>
<path d="M311.84 334.90V337.42M310.24 334.90h3.2M310.24 337.42h3.2" stroke="#9b1441" stroke-width="1.1" fill="none"/>
<rect x="310.34" y="334.66" width="3" height="3" fill="#9b1441"/>
<rect x="319.41" y="340.86" width="3" height="3" fill="#9b1441"/>
<path d="M329.98 331.80V336.83M328.38 331.80h3.2M328.38 336.83h3.2" stroke="#9b1441" stroke-width="1.1" fill="none"/>
<rect x="328.48" y="332.81" width="3" height="3" fill="#9b1441"/>
<rect x="337.55" y="343.38" width="3" height="3" fill="#9b1441"/>
<path d="M348.12 341.44V344.79M346.52 341.44h3.2M346.52 344.79h3.2" stroke="#9b1441" stroke-width="1.1" fill="none"/>
<rect x="346.62" y="341.62" width="3" height="3" fill="#9b1441"/>
<path d="M357.19 342.03V345.38M355.59 342.03h3.2M355.59 345.38h3.2" stroke="#9b1441" stroke-width="1.1" fill="none"/>
<rect x="355.69" y="342.20" width="3" height="3" fill="#9b1441"/>
<path d="M366.26 342.70V346.05M364.66 342.70h3.2M364.66 346.05h3.2" stroke="#9b1441" stroke-width="1.1" fill="none"/>
<rect x="364.76" y="342.87" width="3" height="3" fill="#9b1441"/>
<path d="M289.60 314.60V365.50H369.50" fill="none" stroke="#000" stroke-width="1.2"/>
<line x1="286.00" y1="365.50" x2="289.60" y2="365.50" stroke="#000" stroke-width="1.0" />
<text x="282.70" y="368.04" font-size="8.3" text-anchor="end" fill="#2a2a2a" stroke="#2a2a2a" stroke-width="0.12" >0</text>
<line x1="286.00" y1="348.73" x2="289.60" y2="348.73" stroke="#000" stroke-width="1.0" />
<text x="282.70" y="351.27" font-size="8.3" text-anchor="end" fill="#2a2a2a" stroke="#2a2a2a" stroke-width="0.12" >20</text>
<line x1="286.00" y1="331.97" x2="289.60" y2="331.97" stroke="#000" stroke-width="1.0" />
<text x="282.70" y="334.50" font-size="8.3" text-anchor="end" fill="#2a2a2a" stroke="#2a2a2a" stroke-width="0.12" >40</text>
<line x1="286.00" y1="315.20" x2="289.60" y2="315.20" stroke="#000" stroke-width="1.0" />
<text x="282.70" y="317.74" font-size="8.3" text-anchor="end" fill="#2a2a2a" stroke="#2a2a2a" stroke-width="0.12" >60</text>
<line x1="293.70" y1="365.50" x2="293.70" y2="369.30" stroke="#000" stroke-width="1.0" />
<text x="293.70" y="378.35" font-size="7.9" text-anchor="middle" fill="#2a2a2a" stroke="#2a2a2a" stroke-width="0.12" >1</text>
<line x1="302.77" y1="365.50" x2="302.77" y2="369.30" stroke="#000" stroke-width="1.0" />
<text x="302.77" y="378.35" font-size="7.9" text-anchor="middle" fill="#2a2a2a" stroke="#2a2a2a" stroke-width="0.12" >2</text>
<line x1="311.84" y1="365.50" x2="311.84" y2="369.30" stroke="#000" stroke-width="1.0" />
<text x="311.84" y="378.35" font-size="7.9" text-anchor="middle" fill="#2a2a2a" stroke="#2a2a2a" stroke-width="0.12" >3</text>
<line x1="320.91" y1="365.50" x2="320.91" y2="369.30" stroke="#000" stroke-width="1.0" />
<text x="320.91" y="378.35" font-size="7.9" text-anchor="middle" fill="#2a2a2a" stroke="#2a2a2a" stroke-width="0.12" >4</text>
<line x1="329.98" y1="365.50" x2="329.98" y2="369.30" stroke="#000" stroke-width="1.0" />
<text x="329.98" y="378.35" font-size="7.9" text-anchor="middle" fill="#2a2a2a" stroke="#2a2a2a" stroke-width="0.12" >5</text>
<line x1="339.05" y1="365.50" x2="339.05" y2="369.30" stroke="#000" stroke-width="1.0" />
<text x="339.05" y="378.35" font-size="7.9" text-anchor="middle" fill="#2a2a2a" stroke="#2a2a2a" stroke-width="0.12" >6</text>
<line x1="348.12" y1="365.50" x2="348.12" y2="369.30" stroke="#000" stroke-width="1.0" />
<text x="348.12" y="378.35" font-size="7.9" text-anchor="middle" fill="#2a2a2a" stroke="#2a2a2a" stroke-width="0.12" >7</text>
<line x1="357.19" y1="365.50" x2="357.19" y2="369.30" stroke="#000" stroke-width="1.0" />
<text x="357.19" y="378.35" font-size="7.9" text-anchor="middle" fill="#2a2a2a" stroke="#2a2a2a" stroke-width="0.12" >8</text>
<line x1="366.26" y1="365.50" x2="366.26" y2="369.30" stroke="#000" stroke-width="1.0" />
<text x="366.26" y="378.35" font-size="7.9" text-anchor="middle" fill="#2a2a2a" stroke="#2a2a2a" stroke-width="0.12" >9</text>
<text x="330.60" y="390.95" font-size="8.8" text-anchor="middle" fill="#1a1a1a" textLength="26.40" lengthAdjust="spacingAndGlyphs" font-weight="bold" stroke="#1a1a1a" stroke-width="0.25">(Months)</text>
<text x="330.00" y="304.45" font-size="9.9" text-anchor="middle" fill="#1a1a1a" textLength="56.70" lengthAdjust="spacingAndGlyphs" stroke="#1a1a1a" stroke-width="0.12" ><tspan>CD4</tspan><tspan font-size="7.72" dy="-2.18">+</tspan><tspan dy="2.18"> / CD8</tspan><tspan font-size="7.72" dy="-2.18">+</tspan></text>
<text x="268.00" y="338.80" font-size="7.3" text-anchor="middle" fill="#1a1a1a" textLength="53.80" lengthAdjust="spacingAndGlyphs" transform="rotate(-90 268.00 338.80)" stroke="#1a1a1a" stroke-width="0.32">Of donor cells (%)</text>
<polyline points="406.00,338.78 415.56,343.81 425.12,339.51 434.68,345.59 444.24,342.02 453.80,351.77 463.36,348.00 472.92,345.06 482.48,346.32" fill="none" stroke="#2d4a6d" stroke-width="1.9" stroke-linejoin="round"/>
<rect x="404.50" y="337.28" width="3" height="3" fill="#2d4a6d"/>
<rect x="414.06" y="342.31" width="3" height="3" fill="#2d4a6d"/>
<rect x="423.62" y="338.01" width="3" height="3" fill="#2d4a6d"/>
<rect x="433.18" y="344.09" width="3" height="3" fill="#2d4a6d"/>
<rect x="442.74" y="340.52" width="3" height="3" fill="#2d4a6d"/>
<rect x="452.30" y="350.27" width="3" height="3" fill="#2d4a6d"/>
<rect x="461.86" y="346.50" width="3" height="3" fill="#2d4a6d"/>
<rect x="471.42" y="343.56" width="3" height="3" fill="#2d4a6d"/>
<rect x="480.98" y="344.82" width="3" height="3" fill="#2d4a6d"/>
<polyline points="406.00,338.78 415.56,342.02 425.12,339.51 434.68,344.54 444.24,342.02 453.80,351.77 463.36,348.00 472.92,345.06 482.48,346.32" fill="none" stroke="#9b1441" stroke-width="1.9" stroke-linejoin="round"/>
<path d="M406.00 337.20V340.35M404.40 337.20h3.2M404.40 340.35h3.2" stroke="#9b1441" stroke-width="1.1" fill="none"/>
<rect x="404.50" y="337.28" width="3" height="3" fill="#9b1441"/>
<rect x="414.06" y="340.52" width="3" height="3" fill="#9b1441"/>
<path d="M425.12 338.46V340.56M423.52 338.46h3.2M423.52 340.56h3.2" stroke="#9b1441" stroke-width="1.1" fill="none"/>
<rect x="423.62" y="338.01" width="3" height="3" fill="#9b1441"/>
<rect x="433.18" y="343.04" width="3" height="3" fill="#9b1441"/>
<path d="M444.24 340.77V343.28M442.64 340.77h3.2M442.64 343.28h3.2" stroke="#9b1441" stroke-width="1.1" fill="none"/>
<rect x="442.74" y="340.52" width="3" height="3" fill="#9b1441"/>
<rect x="452.30" y="350.27" width="3" height="3" fill="#9b1441"/>
<rect x="461.86" y="346.50" width="3" height="3" fill="#9b1441"/>
<path d="M472.92 343.81V346.32M471.32 343.81h3.2M471.32 346.32h3.2" stroke="#9b1441" stroke-width="1.1" fill="none"/>
<rect x="471.42" y="343.56" width="3" height="3" fill="#9b1441"/>
<path d="M482.48 345.06V347.58M480.88 345.06h3.2M480.88 347.58h3.2" stroke="#9b1441" stroke-width="1.1" fill="none"/>
<rect x="480.98" y="344.82" width="3" height="3" fill="#9b1441"/>
<path d="M401.70 312.50V365.50H486.30" fill="none" stroke="#000" stroke-width="1.2"/>
<line x1="398.10" y1="365.50" x2="401.70" y2="365.50" stroke="#000" stroke-width="1.0" />
<text x="395.30" y="368.04" font-size="8.3" text-anchor="end" fill="#2a2a2a" stroke="#2a2a2a" stroke-width="0.12" >0</text>
<line x1="398.10" y1="355.02" x2="401.70" y2="355.02" stroke="#000" stroke-width="1.0" />
<text x="395.30" y="357.56" font-size="8.3" text-anchor="end" fill="#2a2a2a" stroke="#2a2a2a" stroke-width="0.12" >1</text>
<line x1="398.10" y1="344.54" x2="401.70" y2="344.54" stroke="#000" stroke-width="1.0" />
<text x="395.30" y="347.08" font-size="8.3" text-anchor="end" fill="#2a2a2a" stroke="#2a2a2a" stroke-width="0.12" >2</text>
<line x1="398.10" y1="334.06" x2="401.70" y2="334.06" stroke="#000" stroke-width="1.0" />
<text x="395.30" y="336.60" font-size="8.3" text-anchor="end" fill="#2a2a2a" stroke="#2a2a2a" stroke-width="0.12" >3</text>
<line x1="398.10" y1="323.58" x2="401.70" y2="323.58" stroke="#000" stroke-width="1.0" />
<text x="395.30" y="326.12" font-size="8.3" text-anchor="end" fill="#2a2a2a" stroke="#2a2a2a" stroke-width="0.12" >4</text>
<line x1="398.10" y1="313.10" x2="401.70" y2="313.10" stroke="#000" stroke-width="1.0" />
<text x="395.30" y="315.64" font-size="8.3" text-anchor="end" fill="#2a2a2a" stroke="#2a2a2a" stroke-width="0.12" >5</text>
<line x1="406.00" y1="365.50" x2="406.00" y2="369.30" stroke="#000" stroke-width="1.0" />
<text x="406.00" y="378.35" font-size="7.9" text-anchor="middle" fill="#2a2a2a" stroke="#2a2a2a" stroke-width="0.12" >1</text>
<line x1="415.56" y1="365.50" x2="415.56" y2="369.30" stroke="#000" stroke-width="1.0" />
<text x="415.56" y="378.35" font-size="7.9" text-anchor="middle" fill="#2a2a2a" stroke="#2a2a2a" stroke-width="0.12" >2</text>
<line x1="425.12" y1="365.50" x2="425.12" y2="369.30" stroke="#000" stroke-width="1.0" />
<text x="425.12" y="378.35" font-size="7.9" text-anchor="middle" fill="#2a2a2a" stroke="#2a2a2a" stroke-width="0.12" >3</text>
<line x1="434.68" y1="365.50" x2="434.68" y2="369.30" stroke="#000" stroke-width="1.0" />
<text x="434.68" y="378.35" font-size="7.9" text-anchor="middle" fill="#2a2a2a" stroke="#2a2a2a" stroke-width="0.12" >4</text>
<line x1="444.24" y1="365.50" x2="444.24" y2="369.30" stroke="#000" stroke-width="1.0" />
<text x="444.24" y="378.35" font-size="7.9" text-anchor="middle" fill="#2a2a2a" stroke="#2a2a2a" stroke-width="0.12" >5</text>
<line x1="453.80" y1="365.50" x2="453.80" y2="369.30" stroke="#000" stroke-width="1.0" />
<text x="453.80" y="378.35" font-size="7.9" text-anchor="middle" fill="#2a2a2a" stroke="#2a2a2a" stroke-width="0.12" >6</text>
<line x1="463.36" y1="365.50" x2="463.36" y2="369.30" stroke="#000" stroke-width="1.0" />
<text x="463.36" y="378.35" font-size="7.9" text-anchor="middle" fill="#2a2a2a" stroke="#2a2a2a" stroke-width="0.12" >7</text>
<line x1="472.92" y1="365.50" x2="472.92" y2="369.30" stroke="#000" stroke-width="1.0" />
<text x="472.92" y="378.35" font-size="7.9" text-anchor="middle" fill="#2a2a2a" stroke="#2a2a2a" stroke-width="0.12" >8</text>
<line x1="482.48" y1="365.50" x2="482.48" y2="369.30" stroke="#000" stroke-width="1.0" />
<text x="482.48" y="378.35" font-size="7.9" text-anchor="middle" fill="#2a2a2a" stroke="#2a2a2a" stroke-width="0.12" >9</text>
<text x="444.60" y="390.95" font-size="8.8" text-anchor="middle" fill="#1a1a1a" textLength="26.40" lengthAdjust="spacingAndGlyphs" font-weight="bold" stroke="#1a1a1a" stroke-width="0.25">(Months)</text>
<text x="444.40" y="304.45" font-size="9.9" text-anchor="middle" fill="#1a1a1a" textLength="30.40" lengthAdjust="spacingAndGlyphs" stroke="#1a1a1a" stroke-width="0.12" ><tspan>NK1.1</tspan><tspan font-size="7.72" dy="-2.18">+</tspan></text>
<text x="383.80" y="337.80" font-size="7.3" text-anchor="middle" fill="#1a1a1a" textLength="53.80" lengthAdjust="spacingAndGlyphs" transform="rotate(-90 383.80 337.80)" stroke="#1a1a1a" stroke-width="0.32">Of donor cells (%)</text>
<defs>
<radialGradient id="rbc1" cx="0.5" cy="0.5" r="0.5">
<stop offset="0" stop-color="#f2d2ee"/><stop offset="0.38" stop-color="#e4b8e0"/><stop offset="0.6" stop-color="#c892c4"/><stop offset="0.84" stop-color="#ae78aa"/><stop offset="1" stop-color="#c096bc"/></radialGradient>
<radialGradient id="rbc2" cx="0.5" cy="0.5" r="0.5">
<stop offset="0" stop-color="#dcacd6"/><stop offset="0.6" stop-color="#d39ecd"/><stop offset="0.9" stop-color="#c892c2"/><stop offset="1" stop-color="#dab0d6"/></radialGradient>
<radialGradient id="lym" cx="0.45" cy="0.45" r="0.55">
<stop offset="0" stop-color="#6238c0"/><stop offset="0.7" stop-color="#5a2cb8"/><stop offset="1" stop-color="#7e5ccc"/></radialGradient>
<clipPath id="cp1"><rect x="35.6" y="423.5" width="130.8" height="93.3"/></clipPath>
<clipPath id="cp2"><rect x="173.8" y="423.5" width="132.2" height="93.8"/></clipPath>
</defs>
<rect x="35.6" y="423.5" width="130.8" height="93.3" fill="#fcf4fb"/>
<g clip-path="url(#cp1)"><circle cx="33.9" cy="422.2" r="3.95" fill="url(#rbc1)"/><circle cx="44.3" cy="422.2" r="3.96" fill="url(#rbc1)"/><circle cx="51.3" cy="421.4" r="3.92" fill="url(#rbc1)"/><circle cx="62.5" cy="422.6" r="4.00" fill="url(#rbc1)"/><circle cx="71.5" cy="420.8" r="4.36" fill="url(#rbc1)"/><circle cx="81.3" cy="420.1" r="4.25" fill="url(#rbc1)"/><circle cx="90.0" cy="422.7" r="4.08" fill="url(#rbc1)"/><circle cx="99.1" cy="422.3" r="4.04" fill="url(#rbc1)"/><circle cx="120.1" cy="420.7" r="4.20" fill="url(#rbc1)"/><circle cx="130.0" cy="422.5" r="4.13" fill="url(#rbc1)"/><circle cx="139.4" cy="421.6" r="4.08" fill="url(#rbc1)"/><circle cx="146.8" cy="422.7" r="4.10" fill="url(#rbc1)"/><circle cx="158.4" cy="422.6" r="4.45" fill="url(#rbc1)"/><circle cx="166.2" cy="420.6" r="4.02" fill="url(#rbc1)"/><circle cx="37.1" cy="429.5" r="3.93" fill="url(#rbc1)"/><circle cx="46.5" cy="430.6" r="4.31" fill="url(#rbc1)"/><circle cx="56.8" cy="431.0" r="4.07" fill="url(#rbc1)"/><circle cx="66.3" cy="430.0" r="4.36" fill="url(#rbc1)"/><circle cx="96.2" cy="429.7" r="4.28" fill="url(#rbc1)"/><circle cx="103.5" cy="428.8" r="4.31" fill="url(#rbc1)"/><circle cx="115.6" cy="429.3" r="4.41" fill="url(#rbc1)"/><circle cx="125.1" cy="431.3" r="4.12" fill="url(#rbc1)"/><circle cx="132.9" cy="430.2" r="3.99" fill="url(#rbc1)"/><circle cx="141.8" cy="430.8" r="3.99" fill="url(#rbc1)"/><circle cx="153.4" cy="428.8" r="4.18" fill="url(#rbc1)"/><circle cx="160.7" cy="429.7" r="4.23" fill="url(#rbc1)"/><circle cx="34.8" cy="438.3" r="4.36" fill="url(#rbc1)"/><circle cx="43.2" cy="438.2" r="4.41" fill="url(#rbc1)"/><circle cx="51.7" cy="437.5" r="4.27" fill="url(#rbc1)"/><circle cx="62.6" cy="440.1" r="4.14" fill="url(#rbc1)"/><circle cx="70.3" cy="440.1" r="4.30" fill="url(#rbc1)"/><circle cx="80.8" cy="438.0" r="4.37" fill="url(#rbc1)"/><circle cx="91.5" cy="438.6" r="4.19" fill="url(#rbc1)"/><circle cx="109.6" cy="439.6" r="4.08" fill="url(#rbc1)"/><circle cx="119.7" cy="440.0" r="4.12" fill="url(#rbc1)"/><circle cx="129.4" cy="437.6" r="4.17" fill="url(#rbc1)"/><circle cx="137.1" cy="439.7" r="4.28" fill="url(#rbc1)"/><circle cx="147.5" cy="440.1" r="4.34" fill="url(#rbc1)"/><circle cx="158.4" cy="438.6" r="4.28" fill="url(#rbc1)"/><circle cx="167.2" cy="438.6" r="4.35" fill="url(#rbc1)"/><circle cx="38.1" cy="446.3" r="4.15" fill="url(#rbc1)"/><circle cx="49.2" cy="448.6" r="4.44" fill="url(#rbc1)"/><circle cx="66.2" cy="448.1" r="4.42" fill="url(#rbc1)"/><circle cx="76.0" cy="448.1" r="4.10" fill="url(#rbc1)"/><circle cx="86.4" cy="447.8" r="4.03" fill="url(#rbc1)"/><circle cx="95.0" cy="447.9" r="4.09" fill="url(#rbc1)"/><circle cx="104.8" cy="448.1" r="4.09" fill="url(#rbc1)"/><circle cx="113.8" cy="448.5" r="3.98" fill="url(#rbc1)"/><circle cx="124.1" cy="445.9" r="4.06" fill="url(#rbc1)"/><circle cx="132.7" cy="447.8" r="4.14" fill="url(#rbc1)"/><circle cx="143.7" cy="447.7" r="4.10" fill="url(#rbc1)"/><circle cx="151.9" cy="447.7" r="4.43" fill="url(#rbc1)"/><circle cx="162.8" cy="446.9" r="4.19" fill="url(#rbc1)"/><circle cx="34.6" cy="456.4" r="3.98" fill="url(#rbc1)"/><circle cx="44.4" cy="456.0" r="4.36" fill="url(#rbc1)"/><circle cx="51.7" cy="456.8" r="3.96" fill="url(#rbc1)"/><circle cx="62.0" cy="456.4" r="4.34" fill="url(#rbc1)"/><circle cx="72.2" cy="455.0" r="4.36" fill="url(#rbc1)"/><circle cx="81.3" cy="456.4" r="3.96" fill="url(#rbc1)"/><circle cx="90.9" cy="456.7" r="4.19" fill="url(#rbc1)"/><circle cx="100.7" cy="454.6" r="4.22" fill="url(#rbc1)"/><circle cx="109.4" cy="456.3" r="4.37" fill="url(#rbc1)"/><circle cx="137.1" cy="455.4" r="4.28" fill="url(#rbc1)"/><circle cx="146.7" cy="454.6" r="4.16" fill="url(#rbc1)"/><circle cx="156.8" cy="456.2" r="4.44" fill="url(#rbc1)"/><circle cx="38.1" cy="463.9" r="3.98" fill="url(#rbc1)"/><circle cx="46.8" cy="465.4" r="4.15" fill="url(#rbc1)"/><circle cx="67.0" cy="464.1" r="3.93" fill="url(#rbc1)"/><circle cx="77.6" cy="465.4" r="3.94" fill="url(#rbc1)"/><circle cx="86.7" cy="464.9" r="4.18" fill="url(#rbc1)"/><circle cx="94.3" cy="464.8" r="4.24" fill="url(#rbc1)"/><circle cx="106.1" cy="465.8" r="4.20" fill="url(#rbc1)"/><circle cx="122.8" cy="464.7" r="3.97" fill="url(#rbc1)"/><circle cx="132.3" cy="464.9" r="4.11" fill="url(#rbc1)"/><circle cx="142.5" cy="464.3" r="4.39" fill="url(#rbc1)"/><circle cx="151.8" cy="465.8" r="4.40" fill="url(#rbc1)"/><circle cx="163.1" cy="465.7" r="3.97" fill="url(#rbc1)"/><circle cx="32.9" cy="474.4" r="4.43" fill="url(#rbc1)"/><circle cx="42.9" cy="472.6" r="4.23" fill="url(#rbc1)"/><circle cx="52.6" cy="472.5" r="4.43" fill="url(#rbc1)"/><circle cx="61.0" cy="473.4" r="4.14" fill="url(#rbc1)"/><circle cx="71.0" cy="473.9" r="4.08" fill="url(#rbc1)"/><circle cx="79.7" cy="473.2" r="4.27" fill="url(#rbc1)"/><circle cx="91.8" cy="473.9" r="4.28" fill="url(#rbc1)"/><circle cx="99.4" cy="472.1" r="4.40" fill="url(#rbc1)"/><circle cx="109.0" cy="473.4" r="4.26" fill="url(#rbc1)"/><circle cx="119.5" cy="473.4" r="4.33" fill="url(#rbc1)"/><circle cx="127.5" cy="473.8" r="4.13" fill="url(#rbc1)"/><circle cx="138.2" cy="472.6" r="3.93" fill="url(#rbc1)"/><circle cx="147.7" cy="473.0" r="4.37" fill="url(#rbc1)"/><circle cx="165.9" cy="473.0" r="4.20" fill="url(#rbc1)"/><circle cx="48.6" cy="481.5" r="4.45" fill="url(#rbc1)"/><circle cx="57.9" cy="482.1" r="4.10" fill="url(#rbc1)"/><circle cx="68.0" cy="481.4" r="4.08" fill="url(#rbc1)"/><circle cx="77.3" cy="480.9" r="4.23" fill="url(#rbc1)"/><circle cx="86.8" cy="480.5" r="4.10" fill="url(#rbc1)"/><circle cx="95.9" cy="481.5" r="3.94" fill="url(#rbc1)"/><circle cx="105.6" cy="482.8" r="4.11" fill="url(#rbc1)"/><circle cx="114.3" cy="481.8" r="4.41" fill="url(#rbc1)"/><circle cx="123.4" cy="480.7" r="4.25" fill="url(#rbc1)"/><circle cx="134.2" cy="480.5" r="4.17" fill="url(#rbc1)"/><circle cx="143.7" cy="482.5" r="4.08" fill="url(#rbc1)"/><circle cx="151.0" cy="482.3" r="4.09" fill="url(#rbc1)"/><circle cx="34.6" cy="489.5" r="4.27" fill="url(#rbc1)"/><circle cx="44.4" cy="490.9" r="4.01" fill="url(#rbc1)"/><circle cx="52.0" cy="491.5" r="4.41" fill="url(#rbc1)"/><circle cx="62.4" cy="490.1" r="3.97" fill="url(#rbc1)"/><circle cx="71.9" cy="489.0" r="4.10" fill="url(#rbc1)"/><circle cx="90.8" cy="491.0" r="4.04" fill="url(#rbc1)"/><circle cx="99.1" cy="490.1" r="4.35" fill="url(#rbc1)"/><circle cx="109.9" cy="490.3" r="4.26" fill="url(#rbc1)"/><circle cx="118.7" cy="489.1" r="4.04" fill="url(#rbc1)"/><circle cx="127.6" cy="490.7" r="4.08" fill="url(#rbc1)"/><circle cx="139.2" cy="490.5" r="4.23" fill="url(#rbc1)"/><circle cx="146.9" cy="490.4" r="4.13" fill="url(#rbc1)"/><circle cx="157.8" cy="490.3" r="4.11" fill="url(#rbc1)"/><circle cx="165.9" cy="489.9" r="4.42" fill="url(#rbc1)"/><circle cx="37.5" cy="499.5" r="3.95" fill="url(#rbc1)"/><circle cx="56.3" cy="499.2" r="4.32" fill="url(#rbc1)"/><circle cx="67.9" cy="498.8" r="4.08" fill="url(#rbc1)"/><circle cx="77.2" cy="497.6" r="4.03" fill="url(#rbc1)"/><circle cx="84.6" cy="497.9" r="4.22" fill="url(#rbc1)"/><circle cx="95.9" cy="498.1" r="4.21" fill="url(#rbc1)"/><circle cx="106.2" cy="499.4" r="3.99" fill="url(#rbc1)"/><circle cx="113.3" cy="499.2" r="4.37" fill="url(#rbc1)"/><circle cx="123.1" cy="498.4" r="4.27" fill="url(#rbc1)"/><circle cx="143.8" cy="499.3" r="3.96" fill="url(#rbc1)"/><circle cx="152.2" cy="499.9" r="4.40" fill="url(#rbc1)"/><circle cx="162.1" cy="499.1" r="4.33" fill="url(#rbc1)"/><circle cx="42.3" cy="506.2" r="4.11" fill="url(#rbc1)"/><circle cx="62.0" cy="508.6" r="4.26" fill="url(#rbc1)"/><circle cx="80.1" cy="506.5" r="4.32" fill="url(#rbc1)"/><circle cx="90.3" cy="508.6" r="4.18" fill="url(#rbc1)"/><circle cx="99.4" cy="506.9" r="4.42" fill="url(#rbc1)"/><circle cx="109.0" cy="506.8" r="3.93" fill="url(#rbc1)"/><circle cx="117.8" cy="508.7" r="3.90" fill="url(#rbc1)"/><circle cx="138.0" cy="508.7" r="3.96" fill="url(#rbc1)"/><circle cx="148.1" cy="506.9" r="4.43" fill="url(#rbc1)"/><circle cx="157.7" cy="506.6" r="4.06" fill="url(#rbc1)"/><circle cx="38.1" cy="517.4" r="3.92" fill="url(#rbc1)"/><circle cx="47.3" cy="516.0" r="4.14" fill="url(#rbc1)"/><circle cx="58.0" cy="516.7" r="4.07" fill="url(#rbc1)"/><circle cx="66.1" cy="516.6" r="4.01" fill="url(#rbc1)"/><circle cx="76.8" cy="515.9" r="4.35" fill="url(#rbc1)"/><circle cx="84.5" cy="514.9" r="4.45" fill="url(#rbc1)"/><circle cx="95.1" cy="514.8" r="4.19" fill="url(#rbc1)"/><circle cx="106.2" cy="516.2" r="4.24" fill="url(#rbc1)"/><circle cx="113.2" cy="514.9" r="4.45" fill="url(#rbc1)"/><circle cx="132.6" cy="514.8" r="3.91" fill="url(#rbc1)"/><circle cx="141.6" cy="515.4" r="4.15" fill="url(#rbc1)"/><circle cx="163.2" cy="515.2" r="4.43" fill="url(#rbc1)"/><path d="M123.8 503.5 Q123.5 500 126.5 499.5 Q128 496.5 131.5 497.2 Q135.8 497.8 135.6 502 Q135.8 506 132.5 508.2 Q130 511 127.8 509.5 Q124.2 507.5 123.8 503.5Z" fill="url(#lym)"/><circle cx="128" cy="502" r="1.2" fill="#4a1e9c" opacity="0.7"/><circle cx="131.5" cy="500.5" r="1.1" fill="#4a1e9c" opacity="0.7"/><circle cx="130.5" cy="505" r="1.2" fill="#4a1e9c" opacity="0.6"/><circle cx="126.5" cy="505.5" r="0.9" fill="#4a1e9c" opacity="0.5"/></g>
<rect x="35.6" y="423.5" width="130.8" height="93.3" fill="none" stroke="#222" stroke-width="1"/>
<line x1="39.20" y1="435.10" x2="72.30" y2="435.10" stroke="#2a1020" stroke-width="1.8" />
<text x="118.00" y="436.35" font-size="10.3" fill="#111" textLength="37.50" lengthAdjust="spacingAndGlyphs" stroke="#111" stroke-width="0.12" >(9.5 Gy)</text>
<rect x="173.8" y="423.5" width="132.2" height="93.8" fill="#fdf8fd"/>
<g clip-path="url(#cp2)"><circle cx="233.3" cy="476.4" r="3.94" fill="url(#rbc2)"/><circle cx="298.5" cy="467.0" r="4.21" fill="url(#rbc2)"/><circle cx="241.0" cy="479.1" r="3.86" fill="url(#rbc2)"/><circle cx="196.3" cy="471.6" r="4.14" fill="url(#rbc2)"/><circle cx="257.8" cy="499.6" r="3.78" fill="url(#rbc2)"/><circle cx="183.8" cy="450.8" r="3.88" fill="url(#rbc2)"/><circle cx="183.3" cy="501.3" r="4.02" fill="url(#rbc2)"/><circle cx="266.6" cy="424.7" r="4.22" fill="url(#rbc2)"/><circle cx="306.5" cy="516.8" r="4.16" fill="url(#rbc2)"/><circle cx="261.2" cy="481.9" r="3.88" fill="url(#rbc2)"/><circle cx="192.6" cy="422.0" r="3.89" fill="url(#rbc2)"/><circle cx="243.8" cy="426.4" r="4.16" fill="url(#rbc2)"/><circle cx="197.1" cy="444.6" r="4.02" fill="url(#rbc2)"/><circle cx="175.0" cy="466.8" r="4.07" fill="url(#rbc2)"/><circle cx="234.0" cy="448.3" r="3.82" fill="url(#rbc2)"/><circle cx="286.9" cy="491.1" r="3.98" fill="url(#rbc2)"/><circle cx="214.4" cy="443.4" r="4.00" fill="url(#rbc2)"/><circle cx="210.7" cy="427.5" r="3.76" fill="url(#rbc2)"/><circle cx="276.7" cy="460.5" r="4.19" fill="url(#rbc2)"/><circle cx="287.8" cy="459.1" r="3.95" fill="url(#rbc2)"/><circle cx="303.2" cy="505.1" r="3.91" fill="url(#rbc2)"/><circle cx="170.9" cy="441.4" r="3.85" fill="url(#rbc2)"/><circle cx="306.3" cy="460.2" r="4.02" fill="url(#rbc2)"/><circle cx="180.9" cy="483.3" r="3.88" fill="url(#rbc2)"/><circle cx="278.4" cy="447.4" r="4.28" fill="url(#rbc2)"/><circle cx="304.0" cy="496.2" r="4.15" fill="url(#rbc2)"/><circle cx="184.8" cy="426.5" r="4.18" fill="url(#rbc2)"/><circle cx="280.9" cy="438.2" r="4.02" fill="url(#rbc2)"/><circle cx="248.1" cy="465.2" r="3.81" fill="url(#rbc2)"/><circle cx="197.2" cy="493.5" r="3.97" fill="url(#rbc2)"/><circle cx="188.9" cy="484.7" r="4.13" fill="url(#rbc2)"/><circle cx="186.9" cy="462.5" r="3.83" fill="url(#rbc2)"/><circle cx="212.8" cy="508.8" r="3.92" fill="url(#rbc2)"/><circle cx="199.9" cy="459.8" r="4.00" fill="url(#rbc2)"/><circle cx="184.7" cy="519.2" r="4.23" fill="url(#rbc2)"/><circle cx="204.4" cy="480.5" r="4.10" fill="url(#rbc2)"/><circle cx="222.2" cy="465.7" r="3.82" fill="url(#rbc2)"/><circle cx="250.2" cy="507.0" r="4.23" fill="url(#rbc2)"/><circle cx="196.1" cy="435.9" r="4.17" fill="url(#rbc2)"/><circle cx="205.3" cy="439.4" r="4.07" fill="url(#rbc2)"/><circle cx="273.0" cy="514.4" r="3.85" fill="url(#rbc2)"/><circle cx="198.0" cy="515.3" r="3.83" fill="url(#rbc2)"/><circle cx="292.7" cy="480.7" r="3.77" fill="url(#rbc2)"/><circle cx="229.0" cy="430.9" r="3.80" fill="url(#rbc2)"/><circle cx="176.1" cy="516.6" r="3.88" fill="url(#rbc2)"/><circle cx="206.3" cy="502.7" r="4.05" fill="url(#rbc2)"/><circle cx="253.2" cy="449.8" r="3.88" fill="url(#rbc2)"/><circle cx="180.3" cy="443.3" r="4.08" fill="url(#rbc2)"/><circle cx="297.6" cy="440.9" r="3.86" fill="url(#rbc2)"/><circle cx="249.9" cy="433.6" r="4.15" fill="url(#rbc2)"/><circle cx="220.8" cy="509.4" r="4.17" fill="url(#rbc2)"/><circle cx="306.3" cy="486.1" r="3.76" fill="url(#rbc2)"/><circle cx="237.4" cy="493.4" r="3.91" fill="url(#rbc2)"/><circle cx="214.9" cy="520.2" r="3.90" fill="url(#rbc2)"/><circle cx="181.2" cy="475.0" r="4.15" fill="url(#rbc2)"/><circle cx="272.7" cy="490.7" r="3.91" fill="url(#rbc2)"/><circle cx="219.4" cy="488.9" r="4.04" fill="url(#rbc2)"/><circle cx="295.3" cy="507.4" r="3.79" fill="url(#rbc2)"/><circle cx="228.5" cy="499.4" r="3.84" fill="url(#rbc2)"/><circle cx="257.2" cy="458.7" r="4.00" fill="url(#rbc2)"/><circle cx="251.3" cy="481.3" r="4.26" fill="url(#rbc2)"/><circle cx="272.4" cy="478.5" r="3.87" fill="url(#rbc2)"/><circle cx="267.3" cy="470.1" r="4.21" fill="url(#rbc2)"/><circle cx="282.2" cy="511.7" r="3.87" fill="url(#rbc2)"/><circle cx="257.3" cy="469.8" r="3.83" fill="url(#rbc2)"/><circle cx="291.4" cy="424.6" r="4.04" fill="url(#rbc2)"/><circle cx="233.7" cy="423.0" r="4.23" fill="url(#rbc2)"/><circle cx="265.4" cy="440.4" r="3.77" fill="url(#rbc2)"/><circle cx="236.5" cy="438.3" r="4.03" fill="url(#rbc2)"/><circle cx="208.4" cy="455.0" r="4.12" fill="url(#rbc2)"/><circle cx="257.3" cy="511.3" r="3.88" fill="url(#rbc2)"/><circle cx="222.9" cy="477.3" r="4.17" fill="url(#rbc2)"/><circle cx="292.3" cy="500.0" r="3.89" fill="url(#rbc2)"/><circle cx="270.6" cy="502.2" r="3.96" fill="url(#rbc2)"/><circle cx="245.0" cy="499.4" r="3.88" fill="url(#rbc2)"/><circle cx="282.6" cy="426.9" r="4.02" fill="url(#rbc2)"/><circle cx="217.1" cy="499.1" r="3.81" fill="url(#rbc2)"/><circle cx="302.0" cy="429.1" r="3.86" fill="url(#rbc2)"/><circle cx="210.9" cy="493.2" r="3.96" fill="url(#rbc2)"/><circle cx="304.6" cy="472.8" r="3.97" fill="url(#rbc2)"/><circle cx="254.4" cy="423.3" r="4.27" fill="url(#rbc2)"/><circle cx="208.0" cy="467.7" r="3.98" fill="url(#rbc2)"/><circle cx="265.7" cy="452.6" r="3.95" fill="url(#rbc2)"/><circle cx="185.3" cy="493.4" r="3.76" fill="url(#rbc2)"/><circle cx="289.2" cy="443.7" r="4.19" fill="url(#rbc2)"/><circle cx="295.6" cy="452.0" r="4.07" fill="url(#rbc2)"/><circle cx="293.5" cy="433.9" r="4.15" fill="url(#rbc2)"/><circle cx="286.9" cy="519.3" r="4.17" fill="url(#rbc2)"/><circle cx="172.3" cy="456.0" r="3.75" fill="url(#rbc2)"/><circle cx="221.3" cy="449.0" r="3.76" fill="url(#rbc2)"/><circle cx="230.2" cy="468.2" r="3.84" fill="url(#rbc2)"/><circle cx="305.3" cy="444.8" r="4.24" fill="url(#rbc2)"/><circle cx="243.1" cy="514.0" r="4.14" fill="url(#rbc2)"/><circle cx="232.0" cy="487.2" r="4.18" fill="url(#rbc2)"/><circle cx="186.5" cy="509.6" r="4.13" fill="url(#rbc2)"/><circle cx="279.2" cy="482.9" r="3.80" fill="url(#rbc2)"/><circle cx="176.3" cy="426.6" r="4.19" fill="url(#rbc2)"/><circle cx="261.1" cy="519.2" r="3.84" fill="url(#rbc2)"/><circle cx="229.9" cy="457.4" r="3.87" fill="url(#rbc2)"/><circle cx="214.7" cy="460.4" r="4.19" fill="url(#rbc2)"/><circle cx="281.0" cy="474.4" r="4.23" fill="url(#rbc2)"/><circle cx="222.7" cy="437.2" r="4.14" fill="url(#rbc2)"/><circle cx="213.9" cy="475.2" r="4.24" fill="url(#rbc2)"/><circle cx="290.9" cy="472.0" r="3.95" fill="url(#rbc2)"/><circle cx="171.0" cy="502.5" r="4.00" fill="url(#rbc2)"/><circle cx="192.6" cy="503.5" r="3.76" fill="url(#rbc2)"/><circle cx="234.6" cy="517.0" r="4.14" fill="url(#rbc2)"/><circle cx="264.5" cy="491.2" r="4.04" fill="url(#rbc2)"/><circle cx="257.5" cy="440.3" r="4.18" fill="url(#rbc2)"/><circle cx="250.5" cy="490.1" r="4.04" fill="url(#rbc2)"/><circle cx="296.5" cy="519.5" r="3.94" fill="url(#rbc2)"/><circle cx="242.6" cy="446.8" r="4.23" fill="url(#rbc2)"/><circle cx="240.3" cy="460.1" r="4.13" fill="url(#rbc2)"/><circle cx="302.2" cy="420.6" r="3.89" fill="url(#rbc2)"/><circle cx="279.5" cy="499.5" r="3.88" fill="url(#rbc2)"/><circle cx="176.4" cy="435.6" r="4.16" fill="url(#rbc2)"/><circle cx="200.6" cy="424.6" r="3.76" fill="url(#rbc2)"/><circle cx="170.9" cy="474.8" r="4.08" fill="url(#rbc2)"/><circle cx="265.8" cy="462.3" r="4.03" fill="url(#rbc2)"/><circle cx="177.5" cy="491.7" r="3.88" fill="url(#rbc2)"/><circle cx="185.4" cy="434.8" r="3.87" fill="url(#rbc2)"/><circle cx="307.5" cy="435.3" r="4.01" fill="url(#rbc2)"/><circle cx="205.6" cy="447.5" r="4.20" fill="url(#rbc2)"/><circle cx="274.9" cy="430.7" r="4.25" fill="url(#rbc2)"/><circle cx="218.8" cy="425.4" r="3.92" fill="url(#rbc2)"/><circle cx="193.0" cy="453.5" r="3.98" fill="url(#rbc2)"/><circle cx="238.5" cy="468.6" r="3.86" fill="url(#rbc2)"/><circle cx="225.9" cy="519.7" r="3.76" fill="url(#rbc2)"/><circle cx="297.3" cy="488.1" r="3.92" fill="url(#rbc2)"/><circle cx="259.2" cy="431.5" r="3.85" fill="url(#rbc2)"/><circle cx="245.9" cy="454.1" r="4.05" fill="url(#rbc2)"/><circle cx="171.0" cy="420.6" r="4.02" fill="url(#rbc2)"/><circle cx="308.9" cy="425.1" r="4.06" fill="url(#rbc2)"/><circle cx="301.1" cy="479.9" r="4.06" fill="url(#rbc2)"/><circle cx="176.6" cy="508.4" r="4.04" fill="url(#rbc2)"/><circle cx="247.4" cy="474.1" r="4.17" fill="url(#rbc2)"/><circle cx="251.7" cy="517.8" r="4.12" fill="url(#rbc2)"/><circle cx="274.6" cy="421.5" r="4.06" fill="url(#rbc2)"/><circle cx="238.0" cy="506.6" r="4.04" fill="url(#rbc2)"/><circle cx="273.3" cy="441.1" r="3.85" fill="url(#rbc2)"/><circle cx="208.3" cy="515.4" r="3.87" fill="url(#rbc2)"/><circle cx="228.9" cy="509.3" r="3.76" fill="url(#rbc2)"/><circle cx="196.8" cy="484.0" r="4.27" fill="url(#rbc2)"/><circle cx="212.6" cy="483.7" r="3.95" fill="url(#rbc2)"/><path d="M226 504.5 Q225.8 500 229 499 Q232 497.5 235 499.5 Q238.5 501.5 238 505 Q237.5 509 233.5 509.8 Q229.5 510.8 227.5 508.5 Q226 507 226 504.5Z" fill="url(#lym)"/><circle cx="231" cy="503" r="1.3" fill="#4a1e9c" opacity="0.6"/><circle cx="234" cy="505.5" r="1.1" fill="#4a1e9c" opacity="0.6"/><circle cx="229" cy="506.5" r="1" fill="#4a1e9c" opacity="0.5"/></g>
<rect x="173.8" y="423.5" width="132.2" height="93.8" fill="none" stroke="#222" stroke-width="1"/>
<line x1="178.90" y1="436.90" x2="211.20" y2="436.90" stroke="#2a1020" stroke-width="1.8" />
<text x="257.00" y="437.15" font-size="10.3" fill="#111" textLength="38.20" lengthAdjust="spacingAndGlyphs" stroke="#111" stroke-width="0.12" >(9.5 Gy)</text>
<text x="58.00" y="418.15" font-size="9.5" fill="#1a1a1a" textLength="88.00" lengthAdjust="spacingAndGlyphs" stroke="#1a1a1a" stroke-width="0.12" ><tspan font-style="italic">Sipa1</tspan><tspan font-size="6.84" dy="-3.14" font-style="italic">+/+</tspan><tspan dy="3.14"> to </tspan><tspan font-style="italic">Sipa1</tspan><tspan font-size="6.84" dy="-3.14" font-style="italic">+/+</tspan></text>
<text x="198.60" y="418.15" font-size="9.5" fill="#1a1a1a" textLength="81.80" lengthAdjust="spacingAndGlyphs" stroke="#1a1a1a" stroke-width="0.12" ><tspan font-style="italic">Sipa1</tspan><tspan font-size="6.84" dy="-3.14" font-style="italic">-/-</tspan><tspan dy="3.14"> to </tspan><tspan font-style="italic">Sipa1</tspan><tspan font-size="6.84" dy="-3.14" font-style="italic">+/+</tspan></text>
<text x="190.20" y="537.85" font-size="9.6" fill="#1a1a1a" textLength="127.90" lengthAdjust="spacingAndGlyphs" stroke="#1a1a1a" stroke-width="0.12" >Donor derived BM HSC/HPCs</text>
<line x1="15.00" y1="544.80" x2="508.80" y2="544.80" stroke="#000" stroke-width="1.2" />
<text x="62.50" y="558.35" font-size="10.4" text-anchor="middle" fill="#1a1a1a" textLength="16.80" lengthAdjust="spacingAndGlyphs" stroke="#1a1a1a" stroke-width="0.12" >LSK</text>
<text x="45.00" y="571.15" font-size="7.8" fill="#333" textLength="34.50" lengthAdjust="spacingAndGlyphs" stroke="#333" stroke-width="0.12" ><tspan font-style="italic">P</tspan><tspan> = .2518</tspan></text>
<path d="M37.70 566.50V617.90H86.70" fill="none" stroke="#000" stroke-width="1.2"/>
<line x1="34.30" y1="617.90" x2="37.70" y2="617.90" stroke="#000" stroke-width="1.0" />
<text x="31.20" y="620.30" font-size="8.0" text-anchor="end" fill="#2a2a2a" stroke="#2a2a2a" stroke-width="0.12" >0.0</text>
<line x1="34.30" y1="607.86" x2="37.70" y2="607.86" stroke="#000" stroke-width="1.0" />
<text x="31.20" y="610.26" font-size="8.0" text-anchor="end" fill="#2a2a2a" stroke="#2a2a2a" stroke-width="0.12" >0.2</text>
<line x1="34.30" y1="597.82" x2="37.70" y2="597.82" stroke="#000" stroke-width="1.0" />
<text x="31.20" y="600.22" font-size="8.0" text-anchor="end" fill="#2a2a2a" stroke="#2a2a2a" stroke-width="0.12" >0.4</text>
<line x1="34.30" y1="587.78" x2="37.70" y2="587.78" stroke="#000" stroke-width="1.0" />
<text x="31.20" y="590.18" font-size="8.0" text-anchor="end" fill="#2a2a2a" stroke="#2a2a2a" stroke-width="0.12" >0.6</text>
<line x1="34.30" y1="577.74" x2="37.70" y2="577.74" stroke="#000" stroke-width="1.0" />
<text x="31.20" y="580.14" font-size="8.0" text-anchor="end" fill="#2a2a2a" stroke="#2a2a2a" stroke-width="0.12" >0.8</text>
<line x1="34.30" y1="567.70" x2="37.70" y2="567.70" stroke="#000" stroke-width="1.0" />
<text x="31.20" y="570.10" font-size="8.0" text-anchor="end" fill="#2a2a2a" stroke="#2a2a2a" stroke-width="0.12" >1.0</text>
<line x1="49.90" y1="617.90" x2="49.90" y2="620.50" stroke="#000" stroke-width="1.0" />
<line x1="74.40" y1="617.90" x2="74.40" y2="620.50" stroke="#000" stroke-width="1.0" />
<text x="12.20" y="591.00" font-size="7.6" text-anchor="middle" fill="#1a1a1a" textLength="53.40" lengthAdjust="spacingAndGlyphs" transform="rotate(-90 12.20 591.00)" stroke="#1a1a1a" stroke-width="0.32">Of donor cells (%)</text>
<text x="54.30" y="627.40" font-size="8.1" text-anchor="end" fill="#222" transform="rotate(-49 54.30 627.40)"><tspan font-style="italic">Sipa1</tspan><tspan font-size="6.48" dy="-2.59" font-style="italic">+/+</tspan></text>
<text x="78.80" y="627.40" font-size="8.1" text-anchor="end" fill="#222" transform="rotate(-49 78.80 627.40)"><tspan font-style="italic">Sipa1</tspan><tspan font-size="6.48" dy="-2.59" font-style="italic">-/-</tspan></text>
<circle cx="53.90" cy="604.00" r="1.35" fill="#fff" stroke="#4a6690" stroke-width="0.85"/>
<circle cx="45.70" cy="606.50" r="1.35" fill="#fff" stroke="#4a6690" stroke-width="0.85"/>
<circle cx="49.50" cy="607.10" r="1.35" fill="#fff" stroke="#4a6690" stroke-width="0.85"/>
<circle cx="51.80" cy="607.90" r="1.35" fill="#fff" stroke="#4a6690" stroke-width="0.85"/>
<circle cx="45.20" cy="610.20" r="1.35" fill="#fff" stroke="#4a6690" stroke-width="0.85"/>
<circle cx="47.60" cy="610.70" r="1.35" fill="#fff" stroke="#4a6690" stroke-width="0.85"/>
<circle cx="50.50" cy="610.70" r="1.35" fill="#fff" stroke="#4a6690" stroke-width="0.85"/>
<circle cx="52.90" cy="610.20" r="1.35" fill="#fff" stroke="#4a6690" stroke-width="0.85"/>
<circle cx="48.60" cy="612.60" r="1.35" fill="#fff" stroke="#4a6690" stroke-width="0.85"/>
<circle cx="74.00" cy="597.90" r="1.35" fill="#8c1a3e"/>
<circle cx="72.10" cy="604.00" r="1.35" fill="#8c1a3e"/>
<circle cx="76.50" cy="603.50" r="1.35" fill="#8c1a3e"/>
<circle cx="78.90" cy="605.90" r="1.35" fill="#8c1a3e"/>
<circle cx="68.30" cy="610.20" r="1.35" fill="#8c1a3e"/>
<circle cx="74.00" cy="608.80" r="1.35" fill="#8c1a3e"/>
<circle cx="80.30" cy="610.00" r="1.35" fill="#8c1a3e"/>
<circle cx="76.50" cy="611.60" r="1.35" fill="#8c1a3e"/>
<circle cx="72.10" cy="613.10" r="1.35" fill="#8c1a3e"/>
<line x1="41.40" y1="609.20" x2="57.70" y2="609.20" stroke="#111" stroke-width="1.5" />
<line x1="66.40" y1="607.30" x2="82.20" y2="607.30" stroke="#111" stroke-width="1.5" />
<text x="148.10" y="558.35" font-size="10.4" text-anchor="middle" fill="#1a1a1a" textLength="40.00" lengthAdjust="spacingAndGlyphs" stroke="#1a1a1a" stroke-width="0.12" >ST-HSCs</text>
<text x="132.30" y="571.15" font-size="7.8" fill="#333" textLength="34.00" lengthAdjust="spacingAndGlyphs" stroke="#333" stroke-width="0.12" ><tspan font-style="italic">P</tspan><tspan> = .2926</tspan></text>
<path d="M121.80 566.50V617.90H170.80" fill="none" stroke="#000" stroke-width="1.2"/>
<line x1="118.40" y1="617.90" x2="121.80" y2="617.90" stroke="#000" stroke-width="1.0" />
<text x="115.30" y="620.30" font-size="8.0" text-anchor="end" fill="#2a2a2a" stroke="#2a2a2a" stroke-width="0.12" >0.0</text>
<line x1="118.40" y1="605.35" x2="121.80" y2="605.35" stroke="#000" stroke-width="1.0" />
<text x="115.30" y="607.75" font-size="8.0" text-anchor="end" fill="#2a2a2a" stroke="#2a2a2a" stroke-width="0.12" >0.1</text>
<line x1="118.40" y1="592.80" x2="121.80" y2="592.80" stroke="#000" stroke-width="1.0" />
<text x="115.30" y="595.20" font-size="8.0" text-anchor="end" fill="#2a2a2a" stroke="#2a2a2a" stroke-width="0.12" >0.2</text>
<line x1="118.40" y1="580.25" x2="121.80" y2="580.25" stroke="#000" stroke-width="1.0" />
<text x="115.30" y="582.65" font-size="8.0" text-anchor="end" fill="#2a2a2a" stroke="#2a2a2a" stroke-width="0.12" >0.3</text>
<line x1="118.40" y1="567.70" x2="121.80" y2="567.70" stroke="#000" stroke-width="1.0" />
<text x="115.30" y="570.10" font-size="8.0" text-anchor="end" fill="#2a2a2a" stroke="#2a2a2a" stroke-width="0.12" >0.4</text>
<line x1="134.00" y1="617.90" x2="134.00" y2="620.50" stroke="#000" stroke-width="1.0" />
<line x1="158.50" y1="617.90" x2="158.50" y2="620.50" stroke="#000" stroke-width="1.0" />
<text x="96.10" y="591.00" font-size="7.6" text-anchor="middle" fill="#1a1a1a" textLength="53.40" lengthAdjust="spacingAndGlyphs" transform="rotate(-90 96.10 591.00)" stroke="#1a1a1a" stroke-width="0.32">Of donor cells (%)</text>
<text x="138.40" y="627.40" font-size="8.1" text-anchor="end" fill="#222" transform="rotate(-49 138.40 627.40)"><tspan font-style="italic">Sipa1</tspan><tspan font-size="6.48" dy="-2.59" font-style="italic">+/+</tspan></text>
<text x="162.90" y="627.40" font-size="8.1" text-anchor="end" fill="#222" transform="rotate(-49 162.90 627.40)"><tspan font-style="italic">Sipa1</tspan><tspan font-size="6.48" dy="-2.59" font-style="italic">-/-</tspan></text>
<circle cx="133.30" cy="602.30" r="1.35" fill="#fff" stroke="#4a6690" stroke-width="0.85"/>
<circle cx="137.40" cy="606.20" r="1.35" fill="#fff" stroke="#4a6690" stroke-width="0.85"/>
<circle cx="129.20" cy="608.30" r="1.35" fill="#fff" stroke="#4a6690" stroke-width="0.85"/>
<circle cx="132.60" cy="608.80" r="1.35" fill="#fff" stroke="#4a6690" stroke-width="0.85"/>
<circle cx="127.30" cy="610.20" r="1.35" fill="#fff" stroke="#4a6690" stroke-width="0.85"/>
<circle cx="130.70" cy="611.60" r="1.35" fill="#fff" stroke="#4a6690" stroke-width="0.85"/>
<circle cx="134.50" cy="611.60" r="1.35" fill="#fff" stroke="#4a6690" stroke-width="0.85"/>
<circle cx="138.80" cy="611.60" r="1.35" fill="#fff" stroke="#4a6690" stroke-width="0.85"/>
<circle cx="133.50" cy="613.60" r="1.35" fill="#fff" stroke="#4a6690" stroke-width="0.85"/>
<circle cx="157.80" cy="599.10" r="1.35" fill="#8c1a3e"/>
<circle cx="155.70" cy="604.90" r="1.35" fill="#8c1a3e"/>
<circle cx="160.30" cy="604.40" r="1.35" fill="#8c1a3e"/>
<circle cx="152.80" cy="607.10" r="1.35" fill="#8c1a3e"/>
<circle cx="160.50" cy="609.20" r="1.35" fill="#8c1a3e"/>
<circle cx="153.70" cy="610.70" r="1.35" fill="#8c1a3e"/>
<circle cx="161.90" cy="612.60" r="1.35" fill="#8c1a3e"/>
<circle cx="157.80" cy="614.00" r="1.35" fill="#8c1a3e"/>
<line x1="124.90" y1="610.00" x2="141.70" y2="610.00" stroke="#111" stroke-width="1.5" />
<line x1="149.90" y1="607.50" x2="165.80" y2="607.50" stroke="#111" stroke-width="1.5" />
<text x="235.50" y="558.35" font-size="10.4" text-anchor="middle" fill="#1a1a1a" textLength="38.30" lengthAdjust="spacingAndGlyphs" stroke="#1a1a1a" stroke-width="0.12" >LT-HSCs</text>
<text x="217.90" y="571.15" font-size="7.8" fill="#333" textLength="33.60" lengthAdjust="spacingAndGlyphs" stroke="#333" stroke-width="0.12" ><tspan font-style="italic">P</tspan><tspan> = .1201</tspan></text>
<path d="M210.45 566.50V617.90H259.45" fill="none" stroke="#000" stroke-width="1.2"/>
<line x1="207.05" y1="617.90" x2="210.45" y2="617.90" stroke="#000" stroke-width="1.0" />
<text x="203.95" y="620.30" font-size="8.0" text-anchor="end" fill="#2a2a2a" stroke="#2a2a2a" stroke-width="0.12" >0.00</text>
<line x1="207.05" y1="601.17" x2="210.45" y2="601.17" stroke="#000" stroke-width="1.0" />
<text x="203.95" y="603.57" font-size="8.0" text-anchor="end" fill="#2a2a2a" stroke="#2a2a2a" stroke-width="0.12" >0.05</text>
<line x1="207.05" y1="584.43" x2="210.45" y2="584.43" stroke="#000" stroke-width="1.0" />
<text x="203.95" y="586.83" font-size="8.0" text-anchor="end" fill="#2a2a2a" stroke="#2a2a2a" stroke-width="0.12" >0.10</text>
<line x1="207.05" y1="567.70" x2="210.45" y2="567.70" stroke="#000" stroke-width="1.0" />
<text x="203.95" y="570.10" font-size="8.0" text-anchor="end" fill="#2a2a2a" stroke="#2a2a2a" stroke-width="0.12" >0.15</text>
<line x1="222.65" y1="617.90" x2="222.65" y2="620.50" stroke="#000" stroke-width="1.0" />
<line x1="247.15" y1="617.90" x2="247.15" y2="620.50" stroke="#000" stroke-width="1.0" />
<text x="181.80" y="591.00" font-size="7.6" text-anchor="middle" fill="#1a1a1a" textLength="53.40" lengthAdjust="spacingAndGlyphs" transform="rotate(-90 181.80 591.00)" stroke="#1a1a1a" stroke-width="0.32">Of donor cells (%)</text>
<text x="227.05" y="627.40" font-size="8.1" text-anchor="end" fill="#222" transform="rotate(-49 227.05 627.40)"><tspan font-style="italic">Sipa1</tspan><tspan font-size="6.48" dy="-2.59" font-style="italic">+/+</tspan></text>
<text x="251.55" y="627.40" font-size="8.1" text-anchor="end" fill="#222" transform="rotate(-49 251.55 627.40)"><tspan font-style="italic">Sipa1</tspan><tspan font-size="6.48" dy="-2.59" font-style="italic">-/-</tspan></text>
<circle cx="223.00" cy="597.20" r="1.35" fill="#fff" stroke="#4a6690" stroke-width="0.85"/>
<circle cx="222.70" cy="603.00" r="1.35" fill="#fff" stroke="#4a6690" stroke-width="0.85"/>
<circle cx="217.00" cy="609.60" r="1.35" fill="#fff" stroke="#4a6690" stroke-width="0.85"/>
<circle cx="220.50" cy="610.60" r="1.35" fill="#fff" stroke="#4a6690" stroke-width="0.85"/>
<circle cx="224.30" cy="611.00" r="1.35" fill="#fff" stroke="#4a6690" stroke-width="0.85"/>
<circle cx="228.00" cy="609.60" r="1.35" fill="#fff" stroke="#4a6690" stroke-width="0.85"/>
<circle cx="220.60" cy="615.50" r="1.35" fill="#fff" stroke="#4a6690" stroke-width="0.85"/>
<circle cx="225.00" cy="614.50" r="1.35" fill="#fff" stroke="#4a6690" stroke-width="0.85"/>
<circle cx="247.00" cy="604.40" r="1.35" fill="#8c1a3e"/>
<circle cx="241.00" cy="612.60" r="1.35" fill="#8c1a3e"/>
<circle cx="245.00" cy="613.00" r="1.35" fill="#8c1a3e"/>
<circle cx="249.00" cy="613.00" r="1.35" fill="#8c1a3e"/>
<circle cx="253.50" cy="612.60" r="1.35" fill="#8c1a3e"/>
<circle cx="244.00" cy="616.00" r="1.35" fill="#8c1a3e"/>
<circle cx="249.00" cy="616.50" r="1.35" fill="#8c1a3e"/>
<circle cx="252.50" cy="615.20" r="1.35" fill="#8c1a3e"/>
<line x1="214.80" y1="609.20" x2="230.70" y2="609.20" stroke="#111" stroke-width="1.5" />
<line x1="239.80" y1="612.90" x2="255.40" y2="612.90" stroke="#111" stroke-width="1.5" />
<text x="313.70" y="558.35" font-size="10.4" text-anchor="middle" fill="#1a1a1a" textLength="19.80" lengthAdjust="spacingAndGlyphs" stroke="#1a1a1a" stroke-width="0.12" >CMP</text>
<text x="304.80" y="571.15" font-size="7.8" fill="#333" textLength="32.70" lengthAdjust="spacingAndGlyphs" stroke="#333" stroke-width="0.12" ><tspan font-style="italic">P</tspan><tspan> = .7528</tspan></text>
<path d="M294.10 566.50V617.90H343.10" fill="none" stroke="#000" stroke-width="1.2"/>
<line x1="290.70" y1="617.90" x2="294.10" y2="617.90" stroke="#000" stroke-width="1.0" />
<text x="287.60" y="620.30" font-size="8.0" text-anchor="end" fill="#2a2a2a" stroke="#2a2a2a" stroke-width="0.12" >0.0</text>
<line x1="290.70" y1="605.35" x2="294.10" y2="605.35" stroke="#000" stroke-width="1.0" />
<text x="287.60" y="607.75" font-size="8.0" text-anchor="end" fill="#2a2a2a" stroke="#2a2a2a" stroke-width="0.12" >0.2</text>
<line x1="290.70" y1="592.80" x2="294.10" y2="592.80" stroke="#000" stroke-width="1.0" />
<text x="287.60" y="595.20" font-size="8.0" text-anchor="end" fill="#2a2a2a" stroke="#2a2a2a" stroke-width="0.12" >0.4</text>
<line x1="290.70" y1="580.25" x2="294.10" y2="580.25" stroke="#000" stroke-width="1.0" />
<text x="287.60" y="582.65" font-size="8.0" text-anchor="end" fill="#2a2a2a" stroke="#2a2a2a" stroke-width="0.12" >0.6</text>
<line x1="290.70" y1="567.70" x2="294.10" y2="567.70" stroke="#000" stroke-width="1.0" />
<text x="287.60" y="570.10" font-size="8.0" text-anchor="end" fill="#2a2a2a" stroke="#2a2a2a" stroke-width="0.12" >0.8</text>
<line x1="306.30" y1="617.90" x2="306.30" y2="620.50" stroke="#000" stroke-width="1.0" />
<line x1="330.80" y1="617.90" x2="330.80" y2="620.50" stroke="#000" stroke-width="1.0" />
<text x="270.20" y="591.00" font-size="7.6" text-anchor="middle" fill="#1a1a1a" textLength="53.40" lengthAdjust="spacingAndGlyphs" transform="rotate(-90 270.20 591.00)" stroke="#1a1a1a" stroke-width="0.32">Of donor cells (%)</text>
<text x="310.70" y="627.40" font-size="8.1" text-anchor="end" fill="#222" transform="rotate(-49 310.70 627.40)"><tspan font-style="italic">Sipa1</tspan><tspan font-size="6.48" dy="-2.59" font-style="italic">+/+</tspan></text>
<text x="335.20" y="627.40" font-size="8.1" text-anchor="end" fill="#222" transform="rotate(-49 335.20 627.40)"><tspan font-style="italic">Sipa1</tspan><tspan font-size="6.48" dy="-2.59" font-style="italic">-/-</tspan></text>
<circle cx="305.10" cy="580.70" r="1.35" fill="#fff" stroke="#4a6690" stroke-width="0.85"/>
<circle cx="309.50" cy="579.70" r="1.35" fill="#fff" stroke="#4a6690" stroke-width="0.85"/>
<circle cx="300.30" cy="584.50" r="1.35" fill="#fff" stroke="#4a6690" stroke-width="0.85"/>
<circle cx="304.70" cy="586.40" r="1.35" fill="#fff" stroke="#4a6690" stroke-width="0.85"/>
<circle cx="308.00" cy="586.40" r="1.35" fill="#fff" stroke="#4a6690" stroke-width="0.85"/>
<circle cx="311.40" cy="585.50" r="1.35" fill="#fff" stroke="#4a6690" stroke-width="0.85"/>
<circle cx="313.80" cy="586.40" r="1.35" fill="#fff" stroke="#4a6690" stroke-width="0.85"/>
<circle cx="302.70" cy="590.30" r="1.35" fill="#fff" stroke="#4a6690" stroke-width="0.85"/>
<circle cx="306.60" cy="593.20" r="1.35" fill="#fff" stroke="#4a6690" stroke-width="0.85"/>
<circle cx="310.40" cy="592.70" r="1.35" fill="#fff" stroke="#4a6690" stroke-width="0.85"/>
<circle cx="327.30" cy="578.90" r="1.35" fill="#8c1a3e"/>
<circle cx="331.60" cy="580.70" r="1.35" fill="#8c1a3e"/>
<circle cx="335.40" cy="580.20" r="1.35" fill="#8c1a3e"/>
<circle cx="329.20" cy="582.80" r="1.35" fill="#8c1a3e"/>
<circle cx="333.50" cy="584.00" r="1.35" fill="#8c1a3e"/>
<circle cx="327.30" cy="586.90" r="1.35" fill="#8c1a3e"/>
<circle cx="335.40" cy="586.90" r="1.35" fill="#8c1a3e"/>
<circle cx="331.60" cy="588.80" r="1.35" fill="#8c1a3e"/>
<circle cx="331.60" cy="593.30" r="1.35" fill="#8c1a3e"/>
<circle cx="331.60" cy="598.00" r="1.35" fill="#8c1a3e"/>
<line x1="298.90" y1="586.60" x2="315.20" y2="586.60" stroke="#111" stroke-width="1.5" />
<line x1="323.40" y1="586.20" x2="339.80" y2="586.20" stroke="#111" stroke-width="1.5" />
<text x="401.20" y="558.35" font-size="10.4" text-anchor="middle" fill="#1a1a1a" textLength="20.00" lengthAdjust="spacingAndGlyphs" stroke="#1a1a1a" stroke-width="0.12" >GMP</text>
<text x="388.80" y="571.15" font-size="7.8" fill="#333" textLength="33.70" lengthAdjust="spacingAndGlyphs" stroke="#333" stroke-width="0.12" ><tspan font-style="italic">P</tspan><tspan> = .9594</tspan></text>
<path d="M378.60 566.50V617.90H427.60" fill="none" stroke="#000" stroke-width="1.2"/>
<line x1="375.20" y1="617.90" x2="378.60" y2="617.90" stroke="#000" stroke-width="1.0" />
<text x="372.10" y="620.30" font-size="8.0" text-anchor="end" fill="#2a2a2a" stroke="#2a2a2a" stroke-width="0.12" >0.0</text>
<line x1="375.20" y1="605.35" x2="378.60" y2="605.35" stroke="#000" stroke-width="1.0" />
<text x="372.10" y="607.75" font-size="8.0" text-anchor="end" fill="#2a2a2a" stroke="#2a2a2a" stroke-width="0.12" >0.2</text>
<line x1="375.20" y1="592.80" x2="378.60" y2="592.80" stroke="#000" stroke-width="1.0" />
<text x="372.10" y="595.20" font-size="8.0" text-anchor="end" fill="#2a2a2a" stroke="#2a2a2a" stroke-width="0.12" >0.4</text>
<line x1="375.20" y1="580.25" x2="378.60" y2="580.25" stroke="#000" stroke-width="1.0" />
<text x="372.10" y="582.65" font-size="8.0" text-anchor="end" fill="#2a2a2a" stroke="#2a2a2a" stroke-width="0.12" >0.6</text>
<line x1="375.20" y1="567.70" x2="378.60" y2="567.70" stroke="#000" stroke-width="1.0" />
<text x="372.10" y="570.10" font-size="8.0" text-anchor="end" fill="#2a2a2a" stroke="#2a2a2a" stroke-width="0.12" >0.8</text>
<line x1="390.80" y1="617.90" x2="390.80" y2="620.50" stroke="#000" stroke-width="1.0" />
<line x1="415.30" y1="617.90" x2="415.30" y2="620.50" stroke="#000" stroke-width="1.0" />
<text x="354.70" y="591.00" font-size="7.6" text-anchor="middle" fill="#1a1a1a" textLength="53.40" lengthAdjust="spacingAndGlyphs" transform="rotate(-90 354.70 591.00)" stroke="#1a1a1a" stroke-width="0.32">Of donor cells (%)</text>
<text x="395.20" y="627.40" font-size="8.1" text-anchor="end" fill="#222" transform="rotate(-49 395.20 627.40)"><tspan font-style="italic">Sipa1</tspan><tspan font-size="6.48" dy="-2.59" font-style="italic">+/+</tspan></text>
<text x="419.70" y="627.40" font-size="8.1" text-anchor="end" fill="#222" transform="rotate(-49 419.70 627.40)"><tspan font-style="italic">Sipa1</tspan><tspan font-size="6.48" dy="-2.59" font-style="italic">-/-</tspan></text>
<circle cx="391.30" cy="598.20" r="1.35" fill="#fff" stroke="#4a6690" stroke-width="0.85"/>
<circle cx="385.30" cy="602.50" r="1.35" fill="#fff" stroke="#4a6690" stroke-width="0.85"/>
<circle cx="397.80" cy="602.30" r="1.35" fill="#fff" stroke="#4a6690" stroke-width="0.85"/>
<circle cx="388.70" cy="603.50" r="1.35" fill="#fff" stroke="#4a6690" stroke-width="0.85"/>
<circle cx="394.40" cy="603.50" r="1.35" fill="#fff" stroke="#4a6690" stroke-width="0.85"/>
<circle cx="391.30" cy="605.40" r="1.35" fill="#fff" stroke="#4a6690" stroke-width="0.85"/>
<circle cx="391.30" cy="610.70" r="1.35" fill="#fff" stroke="#4a6690" stroke-width="0.85"/>
<circle cx="411.70" cy="597.70" r="1.35" fill="#8c1a3e"/>
<circle cx="416.10" cy="598.70" r="1.35" fill="#8c1a3e"/>
<circle cx="419.90" cy="597.50" r="1.35" fill="#8c1a3e"/>
<circle cx="409.30" cy="603.90" r="1.35" fill="#8c1a3e"/>
<circle cx="413.20" cy="603.50" r="1.35" fill="#8c1a3e"/>
<circle cx="411.70" cy="607.30" r="1.35" fill="#8c1a3e"/>
<circle cx="415.60" cy="609.20" r="1.35" fill="#8c1a3e"/>
<circle cx="418.90" cy="608.80" r="1.35" fill="#8c1a3e"/>
<circle cx="422.30" cy="606.80" r="1.35" fill="#8c1a3e"/>
<circle cx="421.30" cy="603.90" r="1.35" fill="#8c1a3e"/>
<line x1="383.40" y1="603.50" x2="399.70" y2="603.50" stroke="#111" stroke-width="1.5" />
<line x1="408.40" y1="604.20" x2="424.20" y2="604.20" stroke="#111" stroke-width="1.5" />
<text x="488.20" y="558.35" font-size="10.4" text-anchor="middle" fill="#1a1a1a" textLength="19.80" lengthAdjust="spacingAndGlyphs" stroke="#1a1a1a" stroke-width="0.12" >MEP</text>
<text x="469.00" y="571.15" font-size="7.8" fill="#333" textLength="33.70" lengthAdjust="spacingAndGlyphs" stroke="#333" stroke-width="0.12" ><tspan font-style="italic">P</tspan><tspan> = .7827</tspan></text>
<path d="M463.30 566.50V617.90H512.30" fill="none" stroke="#000" stroke-width="1.2"/>
<line x1="459.90" y1="617.90" x2="463.30" y2="617.90" stroke="#000" stroke-width="1.0" />
<text x="456.80" y="620.30" font-size="8.0" text-anchor="end" fill="#2a2a2a" stroke="#2a2a2a" stroke-width="0.12" >0.0</text>
<line x1="459.90" y1="605.35" x2="463.30" y2="605.35" stroke="#000" stroke-width="1.0" />
<text x="456.80" y="607.75" font-size="8.0" text-anchor="end" fill="#2a2a2a" stroke="#2a2a2a" stroke-width="0.12" >0.2</text>
<line x1="459.90" y1="592.80" x2="463.30" y2="592.80" stroke="#000" stroke-width="1.0" />
<text x="456.80" y="595.20" font-size="8.0" text-anchor="end" fill="#2a2a2a" stroke="#2a2a2a" stroke-width="0.12" >0.4</text>
<line x1="459.90" y1="580.25" x2="463.30" y2="580.25" stroke="#000" stroke-width="1.0" />
<text x="456.80" y="582.65" font-size="8.0" text-anchor="end" fill="#2a2a2a" stroke="#2a2a2a" stroke-width="0.12" >0.6</text>
<line x1="459.90" y1="567.70" x2="463.30" y2="567.70" stroke="#000" stroke-width="1.0" />
<text x="456.80" y="570.10" font-size="8.0" text-anchor="end" fill="#2a2a2a" stroke="#2a2a2a" stroke-width="0.12" >0.8</text>
<line x1="475.50" y1="617.90" x2="475.50" y2="620.50" stroke="#000" stroke-width="1.0" />
<line x1="500.00" y1="617.90" x2="500.00" y2="620.50" stroke="#000" stroke-width="1.0" />
<text x="439.60" y="591.00" font-size="7.6" text-anchor="middle" fill="#1a1a1a" textLength="53.40" lengthAdjust="spacingAndGlyphs" transform="rotate(-90 439.60 591.00)" stroke="#1a1a1a" stroke-width="0.32">Of donor cells (%)</text>
<text x="479.90" y="627.40" font-size="8.1" text-anchor="end" fill="#222" transform="rotate(-49 479.90 627.40)"><tspan font-style="italic">Sipa1</tspan><tspan font-size="6.48" dy="-2.59" font-style="italic">+/+</tspan></text>
<text x="504.40" y="627.40" font-size="8.1" text-anchor="end" fill="#222" transform="rotate(-49 504.40 627.40)"><tspan font-style="italic">Sipa1</tspan><tspan font-size="6.48" dy="-2.59" font-style="italic">-/-</tspan></text>
<circle cx="471.20" cy="588.20" r="1.35" fill="#fff" stroke="#4a6690" stroke-width="0.85"/>
<circle cx="475.00" cy="588.70" r="1.35" fill="#fff" stroke="#4a6690" stroke-width="0.85"/>
<circle cx="479.80" cy="586.90" r="1.35" fill="#fff" stroke="#4a6690" stroke-width="0.85"/>
<circle cx="475.00" cy="592.50" r="1.35" fill="#fff" stroke="#4a6690" stroke-width="0.85"/>
<circle cx="479.80" cy="593.00" r="1.35" fill="#fff" stroke="#4a6690" stroke-width="0.85"/>
<circle cx="471.20" cy="597.80" r="1.35" fill="#fff" stroke="#4a6690" stroke-width="0.85"/>
<circle cx="475.00" cy="597.80" r="1.35" fill="#fff" stroke="#4a6690" stroke-width="0.85"/>
<circle cx="473.60" cy="604.00" r="1.35" fill="#fff" stroke="#4a6690" stroke-width="0.85"/>
<circle cx="477.90" cy="603.00" r="1.35" fill="#fff" stroke="#4a6690" stroke-width="0.85"/>
<circle cx="498.10" cy="589.10" r="1.35" fill="#8c1a3e"/>
<circle cx="502.00" cy="588.20" r="1.35" fill="#8c1a3e"/>
<circle cx="493.80" cy="593.00" r="1.35" fill="#8c1a3e"/>
<circle cx="506.80" cy="592.00" r="1.35" fill="#8c1a3e"/>
<circle cx="496.20" cy="594.00" r="1.35" fill="#8c1a3e"/>
<circle cx="500.00" cy="594.40" r="1.35" fill="#8c1a3e"/>
<circle cx="495.70" cy="597.30" r="1.35" fill="#8c1a3e"/>
<circle cx="500.00" cy="599.70" r="1.35" fill="#8c1a3e"/>
<circle cx="504.30" cy="598.10" r="1.35" fill="#8c1a3e"/>
<line x1="467.30" y1="594.60" x2="483.70" y2="594.60" stroke="#111" stroke-width="1.5" />
<line x1="491.80" y1="593.70" x2="508.20" y2="593.70" stroke="#111" stroke-width="1.5" />
</svg>
</body></html>
